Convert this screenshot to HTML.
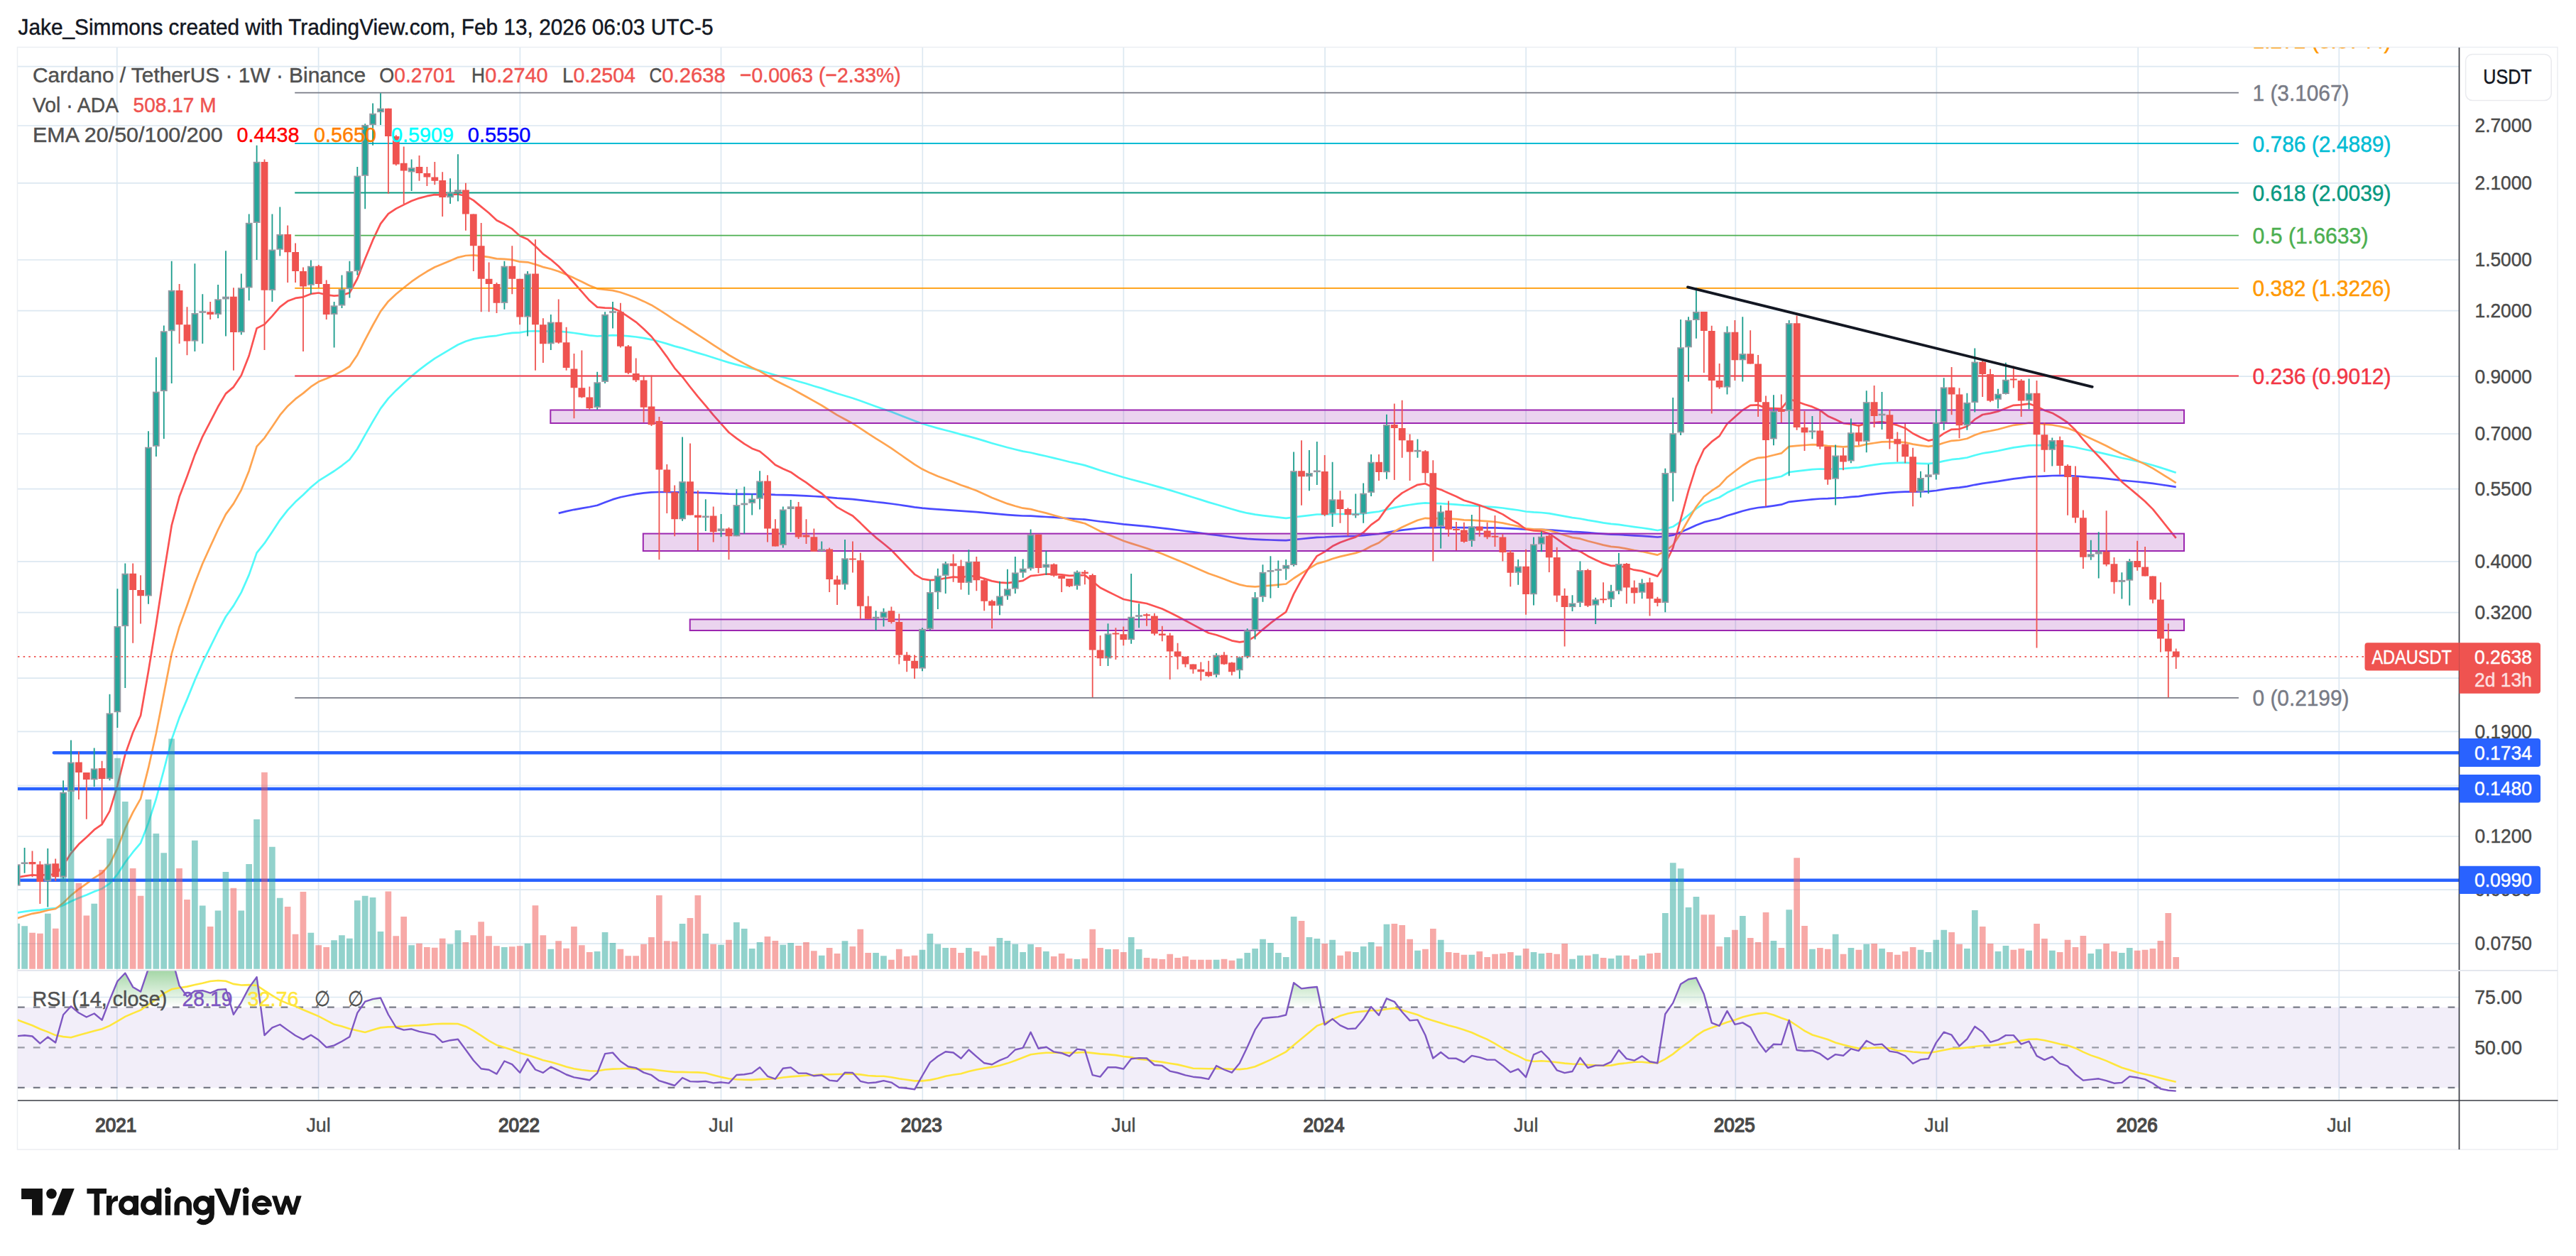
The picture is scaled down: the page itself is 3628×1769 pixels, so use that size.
<!DOCTYPE html>
<html><head><meta charset="utf-8"><style>html,body{margin:0;padding:0;background:#fff;overflow:hidden}svg{display:block}</style></head>
<body><svg width="3628" height="1769" viewBox="0 0 3628 1769" font-family='"Liberation Sans", sans-serif'><defs><clipPath id="cm"><rect x="25" y="67" width="3438.5" height="1299.5"/></clipPath><clipPath id="cr"><rect x="25" y="1367.5" width="3438.5" height="182.0"/></clipPath><linearGradient id="ob" x1="0" y1="0" x2="0" y2="1"><stop offset="0" stop-color="#4caf50" stop-opacity="0.7"/><stop offset="1" stop-color="#4caf50" stop-opacity="0"/></linearGradient></defs><rect width="3628" height="1769" fill="#fff"/><text x="25.5" y="48.6" font-size="30.5" fill="#131722" text-anchor="start" font-weight="normal" stroke="#131722" stroke-width="0.45" textLength="979" lengthAdjust="spacingAndGlyphs" >Jake_Simmons created with TradingView.com, Feb 13, 2026 06:03 UTC-5</text><rect x="24.5" y="66.5" width="3577.5" height="1552.5" fill="none" stroke="#eceef2" stroke-width="1.5"/><path d="M25 93.6H3463.5M25 177H3463.5M25 257.8H3463.5M25 366H3463.5M25 437.7H3463.5M25 530.2H3463.5M25 611H3463.5M25 688.6H3463.5M25 790.9H3463.5M25 862.7H3463.5M25 955.2H3463.5M25 1030.3H3463.5M25 1106.3H3463.5M25 1178H3463.5M25 1253.1H3463.5M25 1329.1H3463.5M164.8 67V1549.5M448.6 67V1549.5M732.4 67V1549.5M1015.5 67V1549.5M1299.3 67V1549.5M1582.4 67V1549.5M1866.1 67V1549.5M2149.2 67V1549.5M2444.3 67V1549.5M2727.4 67V1549.5M3011.2 67V1549.5M3294.3 67V1549.5M25 1404.5H3463.5" stroke="#dce8f1" stroke-width="1.7" fill="none"/><path d="M25 1366.8H3602" stroke="#e0e3eb" stroke-width="1.7"/><g clip-path="url(#cm)"><path d="M786.7 722.9 L797.6 720.1 L808.5 717.8 L819.4 715.8 L830.3 714 L841.2 711.7 L852.1 707.5 L863 703.4 L873.9 700.3 L884.8 698 L895.7 695.9 L906.6 694.4 L917.5 693.3 L928.4 693 L939.3 693 L950.2 693.4 L961.1 693.2 L972 693.5 L982.9 693.8 L993.8 694.2 L1004.7 694.7 L1015.6 695.1 L1026.5 695.7 L1037.4 695.8 L1048.3 695.9 L1059.2 696 L1070.1 695.8 L1081 696.3 L1091.9 696.9 L1102.8 697.1 L1113.7 697.3 L1124.6 697.8 L1135.5 698.3 L1146.4 699 L1157.3 699.7 L1168.2 700.7 L1179.1 701.7 L1190 702.4 L1200.9 703.2 L1211.8 704.4 L1222.7 705.7 L1233.6 707 L1244.5 708.2 L1255.4 709.5 L1266.3 711 L1277.2 712.6 L1288.1 714.3 L1299 715.6 L1309.9 716.6 L1320.8 717.4 L1331.7 718.1 L1342.6 718.8 L1353.5 719.6 L1364.4 720.3 L1375.3 721.1 L1386.2 722.1 L1397.1 723.2 L1408 724.2 L1418.9 725.1 L1429.8 725.8 L1440.7 726.5 L1451.6 726.7 L1462.5 727.4 L1473.4 728 L1484.3 728.7 L1495.2 729.5 L1506.1 730.3 L1517 731 L1527.9 731.6 L1538.7 733 L1549.6 734.5 L1560.5 735.7 L1571.4 737 L1582.3 738.3 L1593.2 739.3 L1604.1 740.4 L1615 741.4 L1625.9 742.6 L1636.8 743.8 L1647.7 745.2 L1658.6 746.5 L1669.5 748 L1680.4 749.4 L1691.3 750.9 L1702.2 752.4 L1713.1 753.7 L1724 755.1 L1734.9 756.5 L1745.8 757.8 L1756.7 758.9 L1767.6 759.6 L1778.5 760.1 L1789.4 760.5 L1800.3 760.8 L1811.2 761.2 L1822.1 760 L1833 759 L1843.9 757.9 L1854.8 756.8 L1865.7 756.5 L1876.6 755.9 L1887.5 755.5 L1898.4 755.2 L1909.3 754.9 L1920.2 754.2 L1931.1 753 L1942 752 L1952.9 750 L1963.8 748.2 L1974.7 746.6 L1985.6 745.3 L1996.5 744 L2007.4 743.1 L2018.3 743.1 L2029.2 742.9 L2040.1 742.9 L2051 743 L2061.9 743.1 L2072.8 743.1 L2083.7 743.2 L2094.6 743.3 L2105.5 743.4 L2116.4 743.8 L2127.3 744.3 L2138.2 744.8 L2149.1 745.6 L2160 745.8 L2170.9 745.9 L2181.8 746.3 L2192.7 747.1 L2203.6 748 L2214.5 748.9 L2225.4 749.4 L2236.3 750.2 L2247.2 751.1 L2258.1 751.9 L2269 752.6 L2279.9 753 L2290.8 753.6 L2301.7 754.3 L2312.6 754.9 L2323.5 755.7 L2334.4 756.5 L2345.3 755.5 L2356.2 753.7 L2367.1 749.6 L2378 744.7 L2388.9 739.7 L2399.8 735.4 L2410.7 732.7 L2421.6 730.2 L2432.5 726.2 L2443.4 723.1 L2454.3 719.8 L2465.2 717 L2476.1 715 L2487 713.9 L2497.9 712.3 L2508.8 710.7 L2519.7 706.8 L2530.6 705.6 L2541.5 704.5 L2552.4 703.3 L2563.3 702.5 L2574.2 702.2 L2585.1 701.5 L2596 701 L2606.9 699.9 L2617.8 699.1 L2628.7 697.4 L2639.6 696.1 L2650.5 694.8 L2661.4 693.9 L2672.3 693.1 L2683.2 692.6 L2694.1 692.6 L2705 692.4 L2715.9 692.2 L2726.8 691 L2737.7 689.2 L2748.6 687.6 L2759.5 686.6 L2770.4 685.1 L2781.3 682.8 L2792.2 680.8 L2803.1 679.4 L2814 677.9 L2824.9 676.1 L2835.8 674.4 L2846.7 673.1 L2857.6 671.6 L2868.5 671 L2879.4 670.6 L2890.3 670 L2901.2 669.9 L2912.1 669.9 L2923 670.5 L2933.9 671.4 L2944.8 672.3 L2955.7 673.2 L2966.6 674.2 L2977.5 675.4 L2988.4 676.6 L2999.3 677.5 L3010.2 678.5 L3021.1 679.6 L3032 680.9 L3042.9 682.5 L3053.8 684.1 L3064.7 685.8" fill="none" stroke="#4b4bff" stroke-width="2.7" stroke-linejoin="round"/><path d="M23.7 1285.5 L34.6 1283.9 L45.5 1282.4 L56.4 1281.6 L67.3 1280.2 L78.2 1279.2 L89.1 1275 L100 1269.5 L110.9 1264.7 L121.8 1260.4 L132.7 1255.8 L143.6 1251.7 L154.5 1244.4 L165.4 1231.4 L176.3 1214.5 L187.2 1200.2 L198.1 1187.3 L209 1158.9 L219.9 1125 L230.8 1084.6 L241.7 1041.9 L252.6 1010.6 L263.5 984.9 L274.4 957.9 L285.3 933.2 L296.2 911.1 L307.1 889 L318 868.5 L328.9 853.1 L339.8 834.4 L350.7 809.6 L361.6 778.6 L372.5 765.2 L383.4 748.9 L394.3 732.3 L405.2 718.4 L416.1 706.8 L427 697 L437.9 686.2 L448.8 677.2 L459.7 670.4 L470.6 663.5 L481.5 655.8 L492.4 647.3 L503.3 632 L514.2 612.7 L525.1 593.6 L536 575.4 L546.9 561.1 L557.8 549.9 L568.7 539.8 L579.6 529.9 L590.5 520.9 L601.4 512.6 L612.3 504.9 L623.2 498.4 L634.1 491.9 L645 485.5 L655.9 480.7 L666.8 477.4 L677.7 475.5 L688.6 473.8 L699.5 472.8 L710.4 470.5 L721.3 468.8 L732.2 468.3 L743.1 466.5 L754 466.3 L764.9 466.6 L775.8 466.4 L786.7 466.7 L797.6 467.6 L808.5 469 L819.4 470.6 L830.3 472.3 L841.2 473.5 L852.1 472.9 L863 472.2 L873.9 472.5 L884.8 473.4 L895.7 474.5 L906.6 476.2 L917.5 478.3 L928.4 481 L939.3 484.1 L950.2 487.6 L961.1 490.4 L972 493.7 L982.9 497.1 L993.8 500.3 L1004.7 503.8 L1015.6 507.2 L1026.5 510.6 L1037.4 513.6 L1048.3 516.5 L1059.2 519.3 L1070.1 521.8 L1081 525 L1091.9 528.4 L1102.8 531.2 L1113.7 534 L1124.6 537.2 L1135.5 540.3 L1146.4 543.7 L1157.3 546.9 L1168.2 550.6 L1179.1 554.2 L1190 557.5 L1200.9 560.8 L1211.8 564.6 L1222.7 568.6 L1233.6 572.5 L1244.5 576.3 L1255.4 580.1 L1266.3 584.3 L1277.2 588.6 L1288.1 592.8 L1299 596.7 L1309.9 600 L1320.8 603.1 L1331.7 606 L1342.6 608.8 L1353.5 611.9 L1364.4 614.6 L1375.3 617.6 L1386.2 620.9 L1397.1 624.2 L1408 627.3 L1418.9 630.3 L1429.8 633 L1440.7 635.6 L1451.6 637.5 L1462.5 640.1 L1473.4 642.5 L1484.3 645.1 L1495.2 647.7 L1506.1 650.5 L1517 652.9 L1527.9 655.4 L1538.7 658.9 L1549.6 662.5 L1560.5 665.8 L1571.4 669 L1582.3 672.3 L1593.2 675.3 L1604.1 678.1 L1615 681 L1625.9 684.1 L1636.8 687.1 L1647.7 690.4 L1658.6 693.7 L1669.5 697.1 L1680.4 700.5 L1691.3 703.9 L1702.2 707.4 L1713.1 710.5 L1724 713.7 L1734.9 717 L1745.8 720.1 L1756.7 722.7 L1767.6 724.6 L1778.5 726.1 L1789.4 727.4 L1800.3 728.7 L1811.2 729.9 L1822.1 728.5 L1833 727.2 L1843.9 725.9 L1854.8 724.5 L1865.7 724.5 L1876.6 724.1 L1887.5 724 L1898.4 724 L1909.3 724 L1920.2 723.4 L1931.1 721.8 L1942 720.5 L1952.9 717.6 L1963.8 714.9 L1974.7 712.7 L1985.6 711 L1996.5 709.3 L2007.4 708.4 L2018.3 709 L2029.2 709.2 L2040.1 709.9 L2051 710.6 L2061.9 711.6 L2072.8 712.1 L2083.7 712.8 L2094.6 713.6 L2105.5 714.4 L2116.4 715.5 L2127.3 717.1 L2138.2 718.5 L2149.1 720.5 L2160 721.4 L2170.9 722 L2181.8 723.1 L2192.7 725.1 L2203.6 727.2 L2214.5 729.2 L2225.4 730.5 L2236.3 732.6 L2247.2 734.4 L2258.1 736.3 L2269 737.9 L2279.9 738.9 L2290.8 740.5 L2301.7 742.1 L2312.6 743.5 L2323.5 745.2 L2334.4 747 L2345.3 745.1 L2356.2 741.8 L2367.1 734.3 L2378 725.5 L2388.9 716.4 L2399.8 709 L2410.7 704.5 L2421.6 700.5 L2432.5 693.8 L2443.4 688.8 L2454.3 683.7 L2465.2 679.2 L2476.1 676.6 L2487 675.4 L2497.9 673.1 L2508.8 671 L2519.7 665 L2530.6 663.6 L2541.5 662.4 L2552.4 661.2 L2563.3 660.5 L2574.2 660.8 L2585.1 660.4 L2596 660.2 L2606.9 659.2 L2617.8 658.4 L2628.7 656.3 L2639.6 654.7 L2650.5 653.1 L2661.4 652.4 L2672.3 651.8 L2683.2 651.7 L2694.1 652.4 L2705 652.8 L2715.9 653.1 L2726.8 651.9 L2737.7 649.4 L2748.6 647.2 L2759.5 646.2 L2770.4 644.5 L2781.3 641.2 L2792.2 638.5 L2803.1 636.8 L2814 635 L2824.9 632.6 L2835.8 630.4 L2846.7 628.9 L2857.6 627.3 L2868.5 627 L2879.4 627.1 L2890.3 627 L2901.2 627.5 L2912.1 628.3 L2923 630 L2933.9 632.5 L2944.8 634.8 L2955.7 637.1 L2966.6 639.6 L2977.5 642.3 L2988.4 645 L2999.3 647.3 L3010.2 649.8 L3021.1 652.3 L3032 655.2 L3042.9 658.6 L3053.8 662.1 L3064.7 665.7" fill="none" stroke="#52fafa" stroke-width="2.7" stroke-linejoin="round"/><path d="M23.7 1293.5 L34.6 1290 L45.5 1286.8 L56.4 1284.9 L67.3 1282 L78.2 1280 L89.1 1271.7 L100 1261.1 L110.9 1252.3 L121.8 1244.6 L132.7 1236.4 L143.6 1229.7 L154.5 1217.1 L165.4 1194.8 L176.3 1166.6 L187.2 1144.2 L198.1 1124.9 L209 1081.7 L219.9 1032.7 L230.8 977 L241.7 921 L252.6 882.7 L263.5 852.7 L274.4 821.5 L285.3 793.8 L296.2 769.8 L307.1 746 L318 724.4 L328.9 709.4 L339.8 690.1 L350.7 663.2 L361.6 628.9 L372.5 616.8 L383.4 601 L394.3 584.7 L405.2 571.9 L416.1 561.9 L427 553.9 L437.9 544.7 L448.8 537.6 L459.7 533.3 L470.6 528.6 L481.5 522.8 L492.4 516 L503.3 499.9 L514.2 478.7 L525.1 458 L536 438.6 L546.9 424.4 L557.8 414.2 L568.7 405.3 L579.6 396.7 L590.5 389.1 L601.4 382.3 L612.3 376.3 L623.2 371.8 L634.1 367.2 L645 362.6 L655.9 360 L666.8 359.4 L677.7 360.7 L688.6 362.1 L699.5 364.4 L710.4 364.8 L721.3 365.9 L732.2 368.7 L743.1 369.3 L754 372.4 L764.9 376.1 L775.8 378.8 L786.7 382.3 L797.6 386.7 L808.5 391.6 L819.4 396.8 L830.3 402.2 L841.2 406.6 L852.1 408 L863 409.1 L873.9 411.8 L884.8 415.6 L895.7 419.6 L906.6 424.4 L917.5 429.7 L928.4 436.3 L939.3 443.3 L950.2 450.8 L961.1 457.3 L972 464.5 L982.9 471.6 L993.8 478.6 L1004.7 485.9 L1015.6 492.9 L1026.5 500 L1037.4 506.2 L1048.3 512.1 L1059.2 517.8 L1070.1 522.8 L1081 529.1 L1091.9 535.8 L1102.8 541.3 L1113.7 546.6 L1124.6 552.7 L1135.5 558.7 L1146.4 564.9 L1157.3 571 L1168.2 577.8 L1179.1 584.6 L1190 590.5 L1200.9 596.4 L1211.8 603.4 L1222.7 610.6 L1233.6 617.7 L1244.5 624.4 L1255.4 631.4 L1266.3 639 L1277.2 646.6 L1288.1 654.2 L1299 660.8 L1309.9 666.1 L1320.8 670.7 L1331.7 674.7 L1342.6 678.7 L1353.5 683.3 L1364.4 686.9 L1375.3 691.1 L1386.2 696 L1397.1 700.9 L1408 705.3 L1418.9 709.4 L1429.8 712.7 L1440.7 715.7 L1451.6 717.1 L1462.5 720 L1473.4 722.6 L1484.3 725.7 L1495.2 728.7 L1506.1 732 L1517 734.6 L1527.9 737.2 L1538.7 742.6 L1549.6 748.2 L1560.5 752.8 L1571.4 757.3 L1582.3 761.8 L1593.2 765.4 L1604.1 768.8 L1615 772.2 L1625.9 776.1 L1636.8 780.1 L1647.7 784.5 L1658.6 789 L1669.5 793.6 L1680.4 798.3 L1691.3 803 L1702.2 807.7 L1713.1 811.5 L1724 815.6 L1734.9 819.8 L1745.8 823.4 L1756.7 825.7 L1767.6 826.3 L1778.5 825.5 L1789.4 824.6 L1800.3 823.6 L1811.2 822.5 L1822.1 814.5 L1833 807.5 L1843.9 800.6 L1854.8 793.9 L1865.7 790.9 L1876.6 787 L1887.5 783.9 L1898.4 781.4 L1909.3 778.9 L1920.2 775.2 L1931.1 769.3 L1942 764.5 L1952.9 756.1 L1963.8 748.5 L1974.7 742.4 L1985.6 737.5 L1996.5 732.7 L2007.4 729.8 L2018.3 730.3 L2029.2 729.9 L2040.1 730.5 L2051 731.1 L2061.9 732.3 L2072.8 732.7 L2083.7 733.3 L2094.6 734.1 L2105.5 735 L2116.4 736.6 L2127.3 739 L2138.2 741.1 L2149.1 744.4 L2160 745.3 L2170.9 745.7 L2181.8 747.1 L2192.7 750.3 L2203.6 753.8 L2214.5 757.1 L2225.4 758.7 L2236.3 762 L2247.2 764.8 L2258.1 767.6 L2269 769.9 L2279.9 770.8 L2290.8 772.9 L2301.7 775.1 L2312.6 776.8 L2323.5 779.1 L2334.4 781.6 L2345.3 776.2 L2356.2 767.8 L2367.1 750.9 L2378 732 L2388.9 713.8 L2399.8 699.5 L2410.7 691.2 L2421.6 684.1 L2432.5 672.2 L2443.4 663.8 L2454.3 655.5 L2465.2 648.5 L2476.1 644.8 L2487 643.8 L2497.9 641 L2508.8 638.4 L2519.7 628.8 L2530.6 627.8 L2541.5 627 L2552.4 626.2 L2563.3 626.3 L2574.2 628.1 L2585.1 628.6 L2596 629.4 L2606.9 628.6 L2617.8 628.4 L2628.7 625.7 L2639.6 624 L2650.5 622.3 L2661.4 622.2 L2672.3 622.3 L2683.2 623.1 L2694.1 625.6 L2705 627.3 L2715.9 628.8 L2726.8 627.4 L2737.7 623.8 L2748.6 620.8 L2759.5 620 L2770.4 617.7 L2781.3 612.7 L2792.2 608.9 L2803.1 607 L2814 604.8 L2824.9 601.7 L2835.8 598.8 L2846.7 597.4 L2857.6 595.6 L2868.5 596.2 L2879.4 597.6 L2890.3 598.5 L2901.2 600.5 L2912.1 603.1 L2923 607.2 L2933.9 612.6 L2944.8 617.7 L2955.7 622.7 L2966.6 628 L2977.5 633.7 L2988.4 639.2 L2999.3 644 L3010.2 648.8 L3021.1 653.9 L3032 659.6 L3042.9 666.3 L3053.8 673.2 L3064.7 680.1" fill="none" stroke="#ffa450" stroke-width="2.7" stroke-linejoin="round"/><path d="M23.7 1236 L34.6 1233.9 L45.5 1232.3 L56.4 1233.2 L67.3 1231.6 L78.2 1231.9 L89.1 1218.9 L100 1201.8 L110.9 1189.1 L121.8 1179.2 L132.7 1168.7 L143.6 1161.1 L154.5 1142.4 L165.4 1106.3 L176.3 1062.6 L187.2 1031.8 L198.1 1007.7 L209 945.5 L219.9 879.2 L230.8 807.8 L241.7 740.2 L252.6 699.6 L263.5 671 L274.4 640.6 L285.3 614.8 L296.2 593.8 L307.1 572.8 L318 554.4 L328.9 545.1 L339.8 528.8 L350.7 501 L361.6 462.4 L372.5 456.9 L383.4 445.2 L394.3 432.3 L405.2 424.1 L416.1 419.9 L427 418.3 L437.9 413.9 L448.8 412.5 L459.7 415.3 L470.6 416.7 L481.5 415.8 L492.4 412.4 L503.3 392.5 L514.2 364.4 L525.1 338.2 L536 315.2 L546.9 301.2 L557.8 293.9 L568.7 288.4 L579.6 283 L590.5 279.1 L601.4 276.2 L612.3 274.1 L623.2 274.5 L634.1 274.1 L645 273.5 L655.9 276 L666.8 282.1 L677.7 291.1 L688.6 300 L699.5 310.2 L710.4 315.8 L721.3 322.4 L732.2 332.3 L743.1 337.1 L754 346.8 L764.9 357.6 L775.8 365.6 L786.7 375 L797.6 386.2 L808.5 398.5 L819.4 410.8 L830.3 423.3 L841.2 432.6 L852.1 433.6 L863 434 L873.9 438.8 L884.8 446.1 L895.7 453.6 L906.6 463.3 L917.5 474 L928.4 487.8 L939.3 502.6 L950.2 518.6 L961.1 530.8 L972 545 L982.9 558.6 L993.8 571.3 L1004.7 584.6 L1015.6 596.8 L1026.5 609 L1037.4 617.4 L1048.3 625.1 L1059.2 631.7 L1070.1 635.8 L1081 644.7 L1091.9 654.7 L1102.8 660.2 L1113.7 664.9 L1124.6 672.6 L1135.5 679.7 L1146.4 687.8 L1157.3 695 L1168.2 704.8 L1179.1 714.4 L1190 720.6 L1200.9 726.5 L1211.8 736.6 L1222.7 747.3 L1233.6 757.1 L1244.5 765.7 L1255.4 774.7 L1266.3 786.2 L1277.2 797.5 L1288.1 808.8 L1299 815.4 L1309.9 817.1 L1320.8 816.5 L1331.7 814.3 L1342.6 812.6 L1353.5 813.4 L1364.4 811.2 L1375.3 811.8 L1386.2 814.9 L1397.1 818.4 L1408 820.3 L1418.9 821.2 L1429.8 819.7 L1440.7 817.9 L1451.6 811.1 L1462.5 810 L1473.4 808.5 L1484.3 808.7 L1495.2 809.3 L1506.1 810.9 L1517 810.4 L1527.9 810.1 L1538.7 818.8 L1549.6 827.7 L1560.5 833.3 L1571.4 838.6 L1582.3 844 L1593.2 846.3 L1604.1 848.2 L1615 850 L1625.9 853.8 L1636.8 857.5 L1647.7 862.7 L1658.6 868.2 L1669.5 874 L1680.4 879.9 L1691.3 885.7 L1702.2 891.5 L1713.1 894.3 L1724 898 L1734.9 902.3 L1745.8 904.4 L1756.7 902.8 L1767.6 896.4 L1778.5 886.6 L1789.4 877.7 L1800.3 869.5 L1811.2 861.8 L1822.1 836.6 L1833 816.7 L1843.9 798.9 L1854.8 783.1 L1865.7 777.1 L1876.6 769.3 L1887.5 764 L1898.4 760 L1909.3 756.4 L1920.2 750 L1931.1 739.1 L1942 731.3 L1952.9 715.9 L1963.8 703.3 L1974.7 694.4 L1985.6 688.4 L1996.5 682.8 L2007.4 681.2 L2018.3 686.5 L2029.2 689.6 L2040.1 694.6 L2051 699.2 L2061.9 704.7 L2072.8 708 L2083.7 711.6 L2094.6 715.6 L2105.5 719.3 L2116.4 724.4 L2127.3 731.4 L2138.2 737.2 L2149.1 745.5 L2160 747.4 L2170.9 748.2 L2181.8 751.5 L2192.7 758.9 L2203.6 766.9 L2214.5 773.9 L2225.4 776.6 L2236.3 783.2 L2247.2 788.5 L2258.1 793.4 L2269 796.9 L2279.9 796.7 L2290.8 799.5 L2301.7 802.7 L2312.6 804.4 L2323.5 807.9 L2334.4 811.6 L2345.3 794.5 L2356.2 771.7 L2367.1 731.3 L2378 691.2 L2388.9 656.7 L2399.8 632.8 L2410.7 622.2 L2421.6 614.1 L2432.5 596.9 L2443.4 587.2 L2454.3 577.6 L2465.2 570.8 L2476.1 570.4 L2487 574.8 L2497.9 575.2 L2508.8 575.6 L2519.7 562 L2530.6 565.6 L2541.5 569.5 L2552.4 572.9 L2563.3 577.8 L2574.2 585.9 L2585.1 590.8 L2596 596.1 L2606.9 597.3 L2617.8 599.6 L2628.7 596.2 L2639.6 595.3 L2650.5 594.1 L2661.4 596.3 L2672.3 598.9 L2683.2 602.9 L2694.1 610.5 L2705 616 L2715.9 620.6 L2726.8 618.1 L2737.7 610.4 L2748.6 604.8 L2759.5 604.3 L2770.4 600.5 L2781.3 590.7 L2792.2 584 L2803.1 582.1 L2814 579.4 L2824.9 574.9 L2835.8 570.8 L2846.7 570.2 L2857.6 568.6 L2868.5 572.5 L2879.4 577.9 L2890.3 581.7 L2901.2 588 L2912.1 595.2 L2923 605.8 L2933.9 619.1 L2944.8 631.4 L2955.7 642.8 L2966.6 654.5 L2977.5 667.1 L2988.4 678.7 L2999.3 687.8 L3010.2 696.9 L3021.1 706.2 L3032 717.1 L3042.9 730.6 L3053.8 744.4 L3064.7 757.9" fill="none" stroke="#fb5252" stroke-width="2.7" stroke-linejoin="round"/><path d="M76 1060.3H3463.5" stroke="#2962ff" stroke-width="4.6" stroke-linecap="round"/><path d="M25 1111H3463.5" stroke="#2962ff" stroke-width="4.6" stroke-linecap="round"/><path d="M25 1239.7H3463.5" stroke="#2962ff" stroke-width="4.6" stroke-linecap="round"/><path d="M19.4 1364.7V1300.8h8.7V1364.7zM30.3 1364.7V1304.3h8.7V1364.7zM63 1364.7V1286.8h8.7V1364.7zM84.8 1364.7V1200.2h8.7V1364.7zM95.7 1364.7V1110h8.7V1364.7zM128.4 1364.7V1272.8h8.7V1364.7zM150.2 1364.7V1180.9h8.7V1364.7zM161.1 1364.7V1067.7h8.7V1364.7zM171.9 1364.7V1128.9h8.7V1364.7zM204.6 1364.7V1126.1h8.7V1364.7zM215.5 1364.7V1174h8.7V1364.7zM226.4 1364.7V1201.2h8.7V1364.7zM237.3 1364.7V1040.5h8.7V1364.7zM270 1364.7V1183.7h8.7V1364.7zM280.9 1364.7V1275.6h8.7V1364.7zM302.7 1364.7V1282.6h8.7V1364.7zM313.6 1364.7V1228.1h8.7V1364.7zM335.4 1364.7V1282.6h8.7V1364.7zM346.3 1364.7V1216.9h8.7V1364.7zM357.2 1364.7V1154h8.7V1364.7zM379 1364.7V1192.8h8.7V1364.7zM389.9 1364.7V1264.8h8.7V1364.7zM433.5 1364.7V1313.7h8.7V1364.7zM466.2 1364.7V1324.2h8.7V1364.7zM477.1 1364.7V1317.2h8.7V1364.7zM488 1364.7V1321.8h8.7V1364.7zM498.9 1364.7V1268.3h8.7V1364.7zM509.8 1364.7V1261.7h8.7V1364.7zM520.7 1364.7V1264.1h8.7V1364.7zM531.6 1364.7V1312h8.7V1364.7zM575.2 1364.7V1331.2h8.7V1364.7zM629.7 1364.7V1329.8h8.7V1364.7zM640.6 1364.7V1310.2h8.7V1364.7zM706 1364.7V1334h8.7V1364.7zM738.7 1364.7V1328.7h8.7V1364.7zM771.4 1364.7V1336.8h8.7V1364.7zM836.8 1364.7V1339.9h8.7V1364.7zM847.7 1364.7V1313h8.7V1364.7zM858.6 1364.7V1328h8.7V1364.7zM956.7 1364.7V1301.1h8.7V1364.7zM989.4 1364.7V1315.1h8.7V1364.7zM1011.2 1364.7V1330.8h8.7V1364.7zM1033 1364.7V1299h8.7V1364.7zM1043.9 1364.7V1308.1h8.7V1364.7zM1054.8 1364.7V1336.1h8.7V1364.7zM1065.7 1364.7V1327h8.7V1364.7zM1098.4 1364.7V1330.8h8.7V1364.7zM1109.3 1364.7V1328h8.7V1364.7zM1152.9 1364.7V1345.8h8.7V1364.7zM1185.6 1364.7V1325.2h8.7V1364.7zM1229.2 1364.7V1342h8.7V1364.7zM1240.1 1364.7V1346.2h8.7V1364.7zM1294.6 1364.7V1337.8h8.7V1364.7zM1305.5 1364.7V1315.1h8.7V1364.7zM1316.4 1364.7V1329.8h8.7V1364.7zM1327.3 1364.7V1335h8.7V1364.7zM1360 1364.7V1335h8.7V1364.7zM1403.6 1364.7V1321h8.7V1364.7zM1414.5 1364.7V1324.9h8.7V1364.7zM1425.4 1364.7V1329.8h8.7V1364.7zM1436.3 1364.7V1340.9h8.7V1364.7zM1447.2 1364.7V1330.1h8.7V1364.7zM1469 1364.7V1339.9h8.7V1364.7zM1512.6 1364.7V1351.1h8.7V1364.7zM1556.2 1364.7V1337.1h8.7V1364.7zM1588.9 1364.7V1320h8.7V1364.7zM1599.8 1364.7V1337.1h8.7V1364.7zM1708.8 1364.7V1351.8h8.7V1364.7zM1741.5 1364.7V1350h8.7V1364.7zM1752.4 1364.7V1342h8.7V1364.7zM1763.3 1364.7V1336.1h8.7V1364.7zM1774.2 1364.7V1322.8h8.7V1364.7zM1785.1 1364.7V1328h8.7V1364.7zM1796 1364.7V1342h8.7V1364.7zM1806.9 1364.7V1347.9h8.7V1364.7zM1817.8 1364.7V1291h8.7V1364.7zM1839.6 1364.7V1320h8.7V1364.7zM1850.5 1364.7V1322.1h8.7V1364.7zM1872.3 1364.7V1323.8h8.7V1364.7zM1905 1364.7V1340.9h8.7V1364.7zM1915.9 1364.7V1332.9h8.7V1364.7zM1926.8 1364.7V1327h8.7V1364.7zM1948.6 1364.7V1301.8h8.7V1364.7zM1992.2 1364.7V1338.8h8.7V1364.7zM2024.9 1364.7V1323.8h8.7V1364.7zM2068.5 1364.7V1344.8h8.7V1364.7zM2133.9 1364.7V1345.8h8.7V1364.7zM2155.7 1364.7V1340.9h8.7V1364.7zM2166.6 1364.7V1343h8.7V1364.7zM2210.2 1364.7V1350.7h8.7V1364.7zM2221.1 1364.7V1345.8h8.7V1364.7zM2242.9 1364.7V1343.7h8.7V1364.7zM2264.7 1364.7V1350h8.7V1364.7zM2275.6 1364.7V1345.8h8.7V1364.7zM2308.3 1364.7V1345.8h8.7V1364.7zM2341 1364.7V1286.1h8.7V1364.7zM2351.9 1364.7V1215.2h8.7V1364.7zM2362.8 1364.7V1223.2h8.7V1364.7zM2373.7 1364.7V1278.1h8.7V1364.7zM2384.6 1364.7V1263h8.7V1364.7zM2428.2 1364.7V1320h8.7V1364.7zM2450 1364.7V1289.9h8.7V1364.7zM2493.6 1364.7V1324.9h8.7V1364.7zM2515.4 1364.7V1281.2h8.7V1364.7zM2548.1 1364.7V1336.8h8.7V1364.7zM2580.8 1364.7V1315.8h8.7V1364.7zM2602.6 1364.7V1335h8.7V1364.7zM2624.4 1364.7V1329.8h8.7V1364.7zM2646.2 1364.7V1336.1h8.7V1364.7zM2700.7 1364.7V1337.8h8.7V1364.7zM2711.6 1364.7V1340.9h8.7V1364.7zM2722.5 1364.7V1323.8h8.7V1364.7zM2733.4 1364.7V1309.8h8.7V1364.7zM2766.1 1364.7V1336.1h8.7V1364.7zM2777 1364.7V1281.9h8.7V1364.7zM2809.7 1364.7V1339.9h8.7V1364.7zM2820.6 1364.7V1331.9h8.7V1364.7zM2853.3 1364.7V1338.8h8.7V1364.7zM2886 1364.7V1338.8h8.7V1364.7zM2940.4 1364.7V1343h8.7V1364.7zM2951.3 1364.7V1336.8h8.7V1364.7zM2984 1364.7V1342h8.7V1364.7zM2994.9 1364.7V1335h8.7V1364.7z" fill="#26a69a" fill-opacity="0.5"/><path d="M41.2 1364.7V1313.7h8.7V1364.7zM52.1 1364.7V1314.8h8.7V1364.7zM73.9 1364.7V1307.8h8.7V1364.7zM106.6 1364.7V1243.8h8.7V1364.7zM117.5 1364.7V1289.6h8.7V1364.7zM139.3 1364.7V1225h8.7V1364.7zM182.8 1364.7V1222.9h8.7V1364.7zM193.7 1364.7V1261.7h8.7V1364.7zM248.2 1364.7V1222.9h8.7V1364.7zM259.1 1364.7V1266.9h8.7V1364.7zM291.8 1364.7V1305h8.7V1364.7zM324.5 1364.7V1250.8h8.7V1364.7zM368.1 1364.7V1087.7h8.7V1364.7zM400.8 1364.7V1277h8.7V1364.7zM411.7 1364.7V1315.8h8.7V1364.7zM422.6 1364.7V1256.1h8.7V1364.7zM444.4 1364.7V1331.2h8.7V1364.7zM455.3 1364.7V1334h8.7V1364.7zM542.5 1364.7V1255.4h8.7V1364.7zM553.4 1364.7V1318.3h8.7V1364.7zM564.3 1364.7V1291h8.7V1364.7zM586.1 1364.7V1328.7h8.7V1364.7zM597 1364.7V1334h8.7V1364.7zM607.9 1364.7V1334.7h8.7V1364.7zM618.8 1364.7V1321.8h8.7V1364.7zM651.5 1364.7V1327h8.7V1364.7zM662.4 1364.7V1317.2h8.7V1364.7zM673.3 1364.7V1298.3h8.7V1364.7zM684.2 1364.7V1318.3h8.7V1364.7zM695.1 1364.7V1332.2h8.7V1364.7zM716.9 1364.7V1333.3h8.7V1364.7zM727.8 1364.7V1332.2h8.7V1364.7zM749.6 1364.7V1275.3h8.7V1364.7zM760.5 1364.7V1317.2h8.7V1364.7zM782.3 1364.7V1325.2h8.7V1364.7zM793.2 1364.7V1335.7h8.7V1364.7zM804.1 1364.7V1305h8.7V1364.7zM815 1364.7V1331.2h8.7V1364.7zM825.9 1364.7V1341h8.7V1364.7zM869.5 1364.7V1336.8h8.7V1364.7zM880.4 1364.7V1346.2h8.7V1364.7zM891.3 1364.7V1346.2h8.7V1364.7zM902.2 1364.7V1329.8h8.7V1364.7zM913.1 1364.7V1320h8.7V1364.7zM924 1364.7V1260.9h8.7V1364.7zM934.9 1364.7V1325.2h8.7V1364.7zM945.8 1364.7V1325.9h8.7V1364.7zM967.6 1364.7V1293.1h8.7V1364.7zM978.5 1364.7V1260.9h8.7V1364.7zM1000.3 1364.7V1329.8h8.7V1364.7zM1022.1 1364.7V1323.8h8.7V1364.7zM1076.6 1364.7V1318.9h8.7V1364.7zM1087.5 1364.7V1324.9h8.7V1364.7zM1120.2 1364.7V1331.9h8.7V1364.7zM1131.1 1364.7V1327h8.7V1364.7zM1142 1364.7V1339.2h8.7V1364.7zM1163.8 1364.7V1335h8.7V1364.7zM1174.7 1364.7V1343h8.7V1364.7zM1196.5 1364.7V1332.9h8.7V1364.7zM1207.4 1364.7V1308.8h8.7V1364.7zM1218.3 1364.7V1342h8.7V1364.7zM1251 1364.7V1351.8h8.7V1364.7zM1261.9 1364.7V1336.8h8.7V1364.7zM1272.8 1364.7V1346.9h8.7V1364.7zM1283.7 1364.7V1345.8h8.7V1364.7zM1338.2 1364.7V1335h8.7V1364.7zM1349.1 1364.7V1342h8.7V1364.7zM1370.9 1364.7V1339.9h8.7V1364.7zM1381.8 1364.7V1345.8h8.7V1364.7zM1392.7 1364.7V1332.9h8.7V1364.7zM1458.1 1364.7V1334h8.7V1364.7zM1479.9 1364.7V1346.9h8.7V1364.7zM1490.8 1364.7V1343h8.7V1364.7zM1501.7 1364.7V1350h8.7V1364.7zM1523.5 1364.7V1350h8.7V1364.7zM1534.4 1364.7V1308.8h8.7V1364.7zM1545.3 1364.7V1335h8.7V1364.7zM1567.1 1364.7V1337.1h8.7V1364.7zM1578 1364.7V1340.9h8.7V1364.7zM1610.7 1364.7V1349h8.7V1364.7zM1621.6 1364.7V1350h8.7V1364.7zM1632.5 1364.7V1351.1h8.7V1364.7zM1643.4 1364.7V1343.7h8.7V1364.7zM1654.3 1364.7V1349h8.7V1364.7zM1665.2 1364.7V1346.9h8.7V1364.7zM1676.1 1364.7V1351.8h8.7V1364.7zM1687 1364.7V1351.8h8.7V1364.7zM1697.9 1364.7V1351.8h8.7V1364.7zM1719.7 1364.7V1350.7h8.7V1364.7zM1730.6 1364.7V1352.8h8.7V1364.7zM1828.7 1364.7V1296.9h8.7V1364.7zM1861.4 1364.7V1329.1h8.7V1364.7zM1883.2 1364.7V1345.8h8.7V1364.7zM1894.1 1364.7V1339.9h8.7V1364.7zM1937.7 1364.7V1332.9h8.7V1364.7zM1959.5 1364.7V1301.1h8.7V1364.7zM1970.4 1364.7V1302.9h8.7V1364.7zM1981.3 1364.7V1322.8h8.7V1364.7zM2003.1 1364.7V1336.8h8.7V1364.7zM2014 1364.7V1308.1h8.7V1364.7zM2035.8 1364.7V1340.9h8.7V1364.7zM2046.7 1364.7V1342h8.7V1364.7zM2057.6 1364.7V1344.8h8.7V1364.7zM2079.4 1364.7V1339.9h8.7V1364.7zM2090.3 1364.7V1347.9h8.7V1364.7zM2101.2 1364.7V1343.7h8.7V1364.7zM2112.1 1364.7V1343h8.7V1364.7zM2123 1364.7V1340.9h8.7V1364.7zM2144.8 1364.7V1336.1h8.7V1364.7zM2177.5 1364.7V1342h8.7V1364.7zM2188.4 1364.7V1343.7h8.7V1364.7zM2199.3 1364.7V1329.1h8.7V1364.7zM2232 1364.7V1345.8h8.7V1364.7zM2253.8 1364.7V1349h8.7V1364.7zM2286.5 1364.7V1345.8h8.7V1364.7zM2297.4 1364.7V1351.1h8.7V1364.7zM2319.2 1364.7V1343h8.7V1364.7zM2330.1 1364.7V1342h8.7V1364.7zM2395.5 1364.7V1288.2h8.7V1364.7zM2406.4 1364.7V1288.2h8.7V1364.7zM2417.3 1364.7V1332.9h8.7V1364.7zM2439.1 1364.7V1309.8h8.7V1364.7zM2460.9 1364.7V1321h8.7V1364.7zM2471.8 1364.7V1327h8.7V1364.7zM2482.7 1364.7V1285h8.7V1364.7zM2504.5 1364.7V1335h8.7V1364.7zM2526.3 1364.7V1208.2h8.7V1364.7zM2537.2 1364.7V1303.9h8.7V1364.7zM2559 1364.7V1335h8.7V1364.7zM2569.9 1364.7V1336.8h8.7V1364.7zM2591.7 1364.7V1343.7h8.7V1364.7zM2613.5 1364.7V1337.8h8.7V1364.7zM2635.3 1364.7V1329.1h8.7V1364.7zM2657.1 1364.7V1340.9h8.7V1364.7zM2668 1364.7V1344.8h8.7V1364.7zM2678.9 1364.7V1339.9h8.7V1364.7zM2689.8 1364.7V1334h8.7V1364.7zM2744.3 1364.7V1313h8.7V1364.7zM2755.2 1364.7V1329.8h8.7V1364.7zM2787.9 1364.7V1305h8.7V1364.7zM2798.8 1364.7V1329.1h8.7V1364.7zM2831.5 1364.7V1337.8h8.7V1364.7zM2842.4 1364.7V1336.1h8.7V1364.7zM2864.2 1364.7V1301.1h8.7V1364.7zM2875.1 1364.7V1322.1h8.7V1364.7zM2896.8 1364.7V1340.9h8.7V1364.7zM2907.7 1364.7V1323.8h8.7V1364.7zM2918.6 1364.7V1334h8.7V1364.7zM2929.5 1364.7V1317.9h8.7V1364.7zM2962.2 1364.7V1329.1h8.7V1364.7zM2973.1 1364.7V1339.9h8.7V1364.7zM3005.8 1364.7V1338.8h8.7V1364.7zM3016.7 1364.7V1337.8h8.7V1364.7zM3027.6 1364.7V1336.1h8.7V1364.7zM3038.5 1364.7V1324.9h8.7V1364.7zM3049.4 1364.7V1286.1h8.7V1364.7zM3060.3 1364.7V1347.9h8.7V1364.7z" fill="#ef5350" fill-opacity="0.5"/><path d="M415.2 56.8H3152.9" stroke="#ff9800" stroke-width="1.8"/><text x="3172.5" y="68.3" font-size="30.5" fill="#ff9800" text-anchor="start" font-weight="normal" stroke="#ff9800" stroke-width="0.45" textLength="195" lengthAdjust="spacingAndGlyphs" >1.272 (3.8744)</text><path d="M415.2 130.7H3152.9" stroke="#787b86" stroke-width="1.8"/><text x="3172.5" y="142.2" font-size="30.5" fill="#787b86" text-anchor="start" font-weight="normal" stroke="#787b86" stroke-width="0.45" textLength="136" lengthAdjust="spacingAndGlyphs" >1 (3.1067)</text><path d="M415.2 202H3152.9" stroke="#00bcd4" stroke-width="1.8"/><text x="3172.5" y="213.5" font-size="30.5" fill="#00bcd4" text-anchor="start" font-weight="normal" stroke="#00bcd4" stroke-width="0.45" textLength="195" lengthAdjust="spacingAndGlyphs" >0.786 (2.4889)</text><path d="M415.2 271.5H3152.9" stroke="#089981" stroke-width="1.8"/><text x="3172.5" y="283" font-size="30.5" fill="#089981" text-anchor="start" font-weight="normal" stroke="#089981" stroke-width="0.45" textLength="195" lengthAdjust="spacingAndGlyphs" >0.618 (2.0039)</text><path d="M415.2 331.7H3152.9" stroke="#4caf50" stroke-width="1.8"/><text x="3172.5" y="343.2" font-size="30.5" fill="#4caf50" text-anchor="start" font-weight="normal" stroke="#4caf50" stroke-width="0.45" textLength="163" lengthAdjust="spacingAndGlyphs" >0.5 (1.6633)</text><path d="M415.2 405.8H3152.9" stroke="#ff9800" stroke-width="1.8"/><text x="3172.5" y="417.3" font-size="30.5" fill="#ff9800" text-anchor="start" font-weight="normal" stroke="#ff9800" stroke-width="0.45" textLength="195" lengthAdjust="spacingAndGlyphs" >0.382 (1.3226)</text><path d="M415.2 529.5H3152.9" stroke="#f23645" stroke-width="1.8"/><text x="3172.5" y="541" font-size="30.5" fill="#f23645" text-anchor="start" font-weight="normal" stroke="#f23645" stroke-width="0.45" textLength="195" lengthAdjust="spacingAndGlyphs" >0.236 (0.9012)</text><path d="M415.2 982.8H3152.9" stroke="#787b86" stroke-width="1.8"/><text x="3172.5" y="994.3" font-size="30.5" fill="#787b86" text-anchor="start" font-weight="normal" stroke="#787b86" stroke-width="0.45" textLength="136" lengthAdjust="spacingAndGlyphs" >0 (0.2199)</text><rect x="775.3" y="577.5" width="2300.7" height="18.5" fill="#9c27b0" fill-opacity="0.2" stroke="#9c27b0" stroke-width="2"/><rect x="905.8" y="751.6" width="2170.2" height="24.399999999999977" fill="#9c27b0" fill-opacity="0.2" stroke="#9c27b0" stroke-width="2"/><rect x="971.7" y="872.4" width="2104.3" height="15.600000000000023" fill="#9c27b0" fill-opacity="0.2" stroke="#9c27b0" stroke-width="2"/><path d="M23.7 1217.4V1247.5M34.6 1194V1229.7M67.3 1195.1V1277.6M89.1 1099.2V1237.5M100 1042.4V1198.4M132.7 1053.5V1108.1M154.5 977.7V1099.2M165.4 829.3V1025M176.3 793.5V969.1M209 607.2V850.8M219.9 503.3V643M230.8 458.5V617.9M241.7 367.7V540M274.4 371.3V494.9M285.3 414.3V484.1M307.1 401V448.3M318 353.3V473.4M339.8 385.6V471.6M350.7 301.4V423.2M361.6 204.7V365.9M383.4 301.4V425M394.3 291.4V360.5M437.9 366.6V414.3M470.6 425V489.5M481.5 387.4V434M492.4 367.7V419.6M503.3 235.1V387.4M514.2 174.2V294.2M525.1 145.5V204.7M536 131.2V176M579.6 224.4V269.1M634.1 251.2V287.1M645 217.2V283.5M710.4 367.7V435.8M743.1 382V473.4M775.8 442.9V493.1M841.2 523.7V576.7M852.1 439.3V540M863 425V462.6M961.1 615.5V733.8M993.8 703.3V748.1M1015.6 724.1V756.3M1037.4 689V755.3M1048.3 685.4V751.7M1059.2 695.4V725.5M1070.1 663.2V717.6M1102.8 713.4V771.4M1113.7 704V749.2M1157.3 762.4V776.8M1190 759.9V830.5M1233.6 860.3V887.8M1244.5 856.7V882.5M1299 884.3V945.2M1309.9 817.3V887.8M1320.8 800.8V858.1M1331.7 791.1V835.9M1364.4 774.3V837.7M1408 818.7V866.3M1418.9 801.8V844.8M1429.8 783.9V835.9M1440.7 787.5V813.7M1451.6 745.6V803.6M1473.4 775.7V810.1M1517 803.6V830.5M1560.5 878.2V938M1593.2 807.9V906.8M1604.1 850.2V884.3M1713.1 920.1V954.1M1745.8 924.7V955.9M1756.7 885.3V927.3M1767.6 834.1V900.4M1778.5 795.2V847.8M1789.4 783.3V842.5M1800.3 789.4V828.1M1811.2 788V816.7M1822.1 636.4V797.7M1843.9 633.9V691.3M1854.8 622.1V683M1876.6 650.8V742.1M1909.3 695.6V729.6M1920.2 680.5V736.8M1931.1 640V699.1M1952.9 583.8V674.8M1996.5 618.5V644.7M2029.2 711.7V772.6M2072.8 724.9V770.1M2138.2 788V823.8M2160 756.5V852.5M2170.9 748.6V777.3M2214.5 838.2V861.1M2225.4 790.5V855M2247.2 841.7V879M2269 823.8V855M2279.9 778.7V837.1M2312.6 815.6V843.2M2345.3 659.7V862.2M2356.2 560.1V706.3M2367.1 449.9V612.9M2378 446.3V537.6M2388.9 405.1V476.7M2432.5 459.5V555.6M2454.3 446.3V537.6M2497.9 556.3V627.2M2519.7 450.9V670.2M2552.4 586V618.3M2585.1 626.5V711.4M2606.9 589.6V652.3M2628.7 550.2V637.3M2650.5 552V605M2705 663.8V700.7M2715.9 654.1V695.3M2726.8 577.1V675.6M2737.7 532.3V605.7M2770.4 553.8V605.7M2781.3 490.4V580.6M2814 547.7V575.3M2824.9 510.8V555.6M2857.6 533.4V576.3M2890.3 616.5V656.6M2944.8 760.7V788.7M2955.7 749.3V814.5M2988.4 806.3V843.5M2999.3 787.2V852.8" stroke="#1a9c8c" stroke-width="1.8"/><path d="M45.5 1198.4V1235.2M56.4 1212.9V1273.1M78.2 1209.6V1240.8M110.9 1058.4V1126M121.8 1088.1V1153.8M143.6 1071.8V1161M187.2 793.5V905.7M198.1 810.3V878.4M252.6 399.9V484.1M263.5 432.2V500.2M296.2 425V450.1M328.9 405.3V521.7M372.5 224.4V493.1M405.2 317.5V398.1M416.1 342.6V398.1M427 376.6V494.9M448.8 373.1V405.3M459.7 394.6V450.1M546.9 152.7V272.7M557.8 190.3V233.3M568.7 206.4V287.1M590.5 219V254.8M601.4 235.1V262M612.3 227.9V260.2M623.2 242.3V305M655.9 257.7V324.7M666.8 301.4V382M677.7 313.9V439.3M688.6 369.5V439.3M699.5 398.1V441.1M721.3 346.2V414.3M732.2 392.8V457.3M754 337.2V521.7M764.9 448.3V511M786.7 421.4V484.1M797.6 460.8V521.7M808.5 497.9V589.3M819.4 493.6V560.6M830.3 544.5V576.7M873.9 426.8V489.5M884.8 485.9V527.1M895.7 504.4V538M906.6 530.2V594.7M917.5 528.4V600M928.4 586.9V788.2M939.3 653.9V723M950.2 683.6V755.3M972 624.5V725.5M982.9 690.8V775M1004.7 713.4V763.5M1026.5 742.7V788.2M1081 669.3V763.5M1091.9 731.3V769.6M1124.6 706.9V758.9M1135.5 731.3V766M1146.4 744.5V776.8M1168.2 771.4V834.1M1179.1 810.8V852M1200.9 762.4V806.5M1211.8 778.6V871.7M1222.7 839.5V871.7M1255.4 854.5V878.2M1266.3 864.6V935.5M1277.2 918.3V946.2M1288.1 922.6V955.9M1342.6 780.4V819.8M1353.5 788.6V830.5M1375.3 783.9V832.3M1386.2 815.1V860.3M1397.1 844.8V885.3M1462.5 752.8V807.2M1484.3 793.6V812.6M1495.2 810.8V834.1M1506.1 815.1V826.9M1527.9 802.9V823.3M1538.7 807.9V982.1M1549.6 895V938M1571.4 884.3V929M1582.3 882.5V909.3M1615 863.8V881.7M1625.9 863.8V895M1636.8 881.7V903.2M1647.7 891.4V957M1658.6 905.8V942.7M1669.5 924.7V939.8M1680.4 935.5V948.7M1691.3 932.6V958.4M1702.2 930.8V953.4M1724 918.3V936.2M1734.9 932.6V951.3M1833 620.3V711.7M1865.7 641.1V727.1M1887.5 691.3V736.8M1898.4 715.3V754.7M1942 640V676.9M1963.8 568.4V675.9M1974.7 563.7V644.7M1985.6 611.4V676.9M2007.4 633.9V679.4M2018.3 648.3V790.5M2040.1 705.6V755.8M2051 735V775.1M2061.9 735.7V764.4M2083.7 711.7V755.8M2094.6 735.7V759.3M2105.5 726V770.1M2116.4 752.2V790.5M2127.3 775.1V826.3M2149.1 773.7V865.8M2181.8 752.9V805.9M2192.7 770.8V847.8M2203.6 828.8V910.5M2236.3 801.3V855M2258.1 820.3V849.6M2290.8 793V850.3M2301.7 817.4V850.3M2323.5 813.8V867.5M2334.4 840.7V853.9M2399.8 439.1V525.1M2410.7 458.8V582.4M2421.6 511.9V547.7M2443.4 450.9V535.9M2465.2 465.3V512.6M2476.1 500V587.1M2487 557.4V713.2M2508.8 555.6V595M2530.6 444.5V605.7M2541.5 578.9V635.1M2563.3 578.9V632.6M2574.2 629V682.8M2596 630.8V662.3M2617.8 597.8V627.2M2639.6 543V602.1M2661.4 577.1V632.6M2672.3 608.6V650.5M2683.2 596.8V652.3M2694.1 630.8V713.2M2748.6 516.9V584.2M2759.5 546.6V617.2M2792.2 506.1V559.1M2803.1 519.7V566.3M2835.8 515.4V546.6M2846.7 534.1V587.1M2868.5 535.9V912.4M2879.4 595V664.8M2901.2 614.7V668.4M2912.1 654.1V725.8M2923 656.6V736.5M2933.9 718.6V801M2966.6 719.3V797.6M2977.5 785.1V836.3M3010.2 761.7V803.8M3021.1 770V811.4M3032 811.4V849.7M3042.9 820.3V918.5M3053.8 878.3V982.2M3064.7 913.5V941.9" stroke="#ef5350" stroke-width="1.8"/><g fill="#26a69a" stroke="#9598a1" stroke-width="1.8" transform="translate(0,0.8)"><rect x="19.7" y="1217.4" width="8" height="28.5"/><rect x="30.6" y="1214.5" width="8" height="0.8"/><rect x="63.3" y="1216.7" width="8" height="22.9"/><rect x="85.1" y="1115.9" width="8" height="117.7"/><rect x="96" y="1073.6" width="8" height="39.6"/><rect x="128.7" y="1082.5" width="8" height="14"/><rect x="150.5" y="1004.5" width="8" height="90.9"/><rect x="161.4" y="882" width="8" height="119.5"/><rect x="172.3" y="807.8" width="8" height="72.6"/><rect x="205" y="629.8" width="8" height="208"/><rect x="215.9" y="551.7" width="8" height="75.4"/><rect x="226.8" y="466.4" width="8" height="83"/><rect x="237.7" y="408.9" width="8" height="55.7"/><rect x="270.4" y="441.1" width="8" height="37.8"/><rect x="281.3" y="438.3" width="8" height="0.8"/><rect x="303.1" y="421.4" width="8" height="19.9"/><rect x="314" y="417.8" width="8" height="2"/><rect x="335.8" y="405.3" width="8" height="61.1"/><rect x="346.7" y="313.9" width="8" height="89.8"/><rect x="357.6" y="227.9" width="8" height="84.4"/><rect x="379.4" y="351.6" width="8" height="55.7"/><rect x="390.3" y="330.1" width="8" height="19.9"/><rect x="433.9" y="374.8" width="8" height="25.3"/><rect x="466.6" y="430.4" width="8" height="10.9"/><rect x="477.5" y="407.1" width="8" height="21.7"/><rect x="488.4" y="382" width="8" height="23.5"/><rect x="499.3" y="247.6" width="8" height="132.8"/><rect x="510.2" y="176" width="8" height="70.1"/><rect x="521.1" y="159.9" width="8" height="14.5"/><rect x="532" y="152.7" width="8" height="3.8"/><rect x="575.6" y="236.2" width="8" height="4.5"/><rect x="630.1" y="270.9" width="8" height="5.6"/><rect x="641" y="267.4" width="8" height="2"/><rect x="706.4" y="374.8" width="8" height="50.4"/><rect x="739.1" y="385.6" width="8" height="59.3"/><rect x="771.8" y="453.7" width="8" height="28.9"/><rect x="837.2" y="538.4" width="8" height="33.9"/><rect x="848.1" y="442.9" width="8" height="93.3"/><rect x="859" y="438.3" width="8" height="0.8"/><rect x="957.1" y="678.2" width="8" height="51.4"/><rect x="989.8" y="726.6" width="8" height="0.8"/><rect x="1011.6" y="744.5" width="8" height="2"/><rect x="1033.4" y="711.2" width="8" height="42.5"/><rect x="1044.3" y="708.7" width="8" height="0.9"/><rect x="1055.2" y="702.6" width="8" height="4.5"/><rect x="1066.1" y="677.5" width="8" height="23.5"/><rect x="1098.8" y="717.6" width="8" height="48.6"/><rect x="1109.7" y="713.4" width="8" height="2"/><rect x="1153.3" y="773.5" width="8" height="0.8"/><rect x="1186" y="786.4" width="8" height="35.3"/><rect x="1229.6" y="868.8" width="8" height="0.8"/><rect x="1240.5" y="861.7" width="8" height="7"/><rect x="1295" y="886" width="8" height="53.9"/><rect x="1305.9" y="834.1" width="8" height="50.4"/><rect x="1316.8" y="810.8" width="8" height="21.7"/><rect x="1327.7" y="793.6" width="8" height="15.6"/><rect x="1360.4" y="791.1" width="8" height="28.1"/><rect x="1404" y="839.5" width="8" height="12"/><rect x="1414.9" y="829.4" width="8" height="8.4"/><rect x="1425.8" y="806.5" width="8" height="21.3"/><rect x="1436.7" y="800.8" width="8" height="4.1"/><rect x="1447.6" y="752.8" width="8" height="46.4"/><rect x="1469.4" y="794.7" width="8" height="3.1"/><rect x="1513" y="805.4" width="8" height="18.1"/><rect x="1556.5" y="892.5" width="8" height="33.2"/><rect x="1589.2" y="868.8" width="8" height="30.6"/><rect x="1600.1" y="866.3" width="8" height="0.8"/><rect x="1709.1" y="922.6" width="8" height="26.3"/><rect x="1741.8" y="925.5" width="8" height="17"/><rect x="1752.7" y="887.8" width="8" height="36"/><rect x="1763.6" y="841.3" width="8" height="45"/><rect x="1774.5" y="805.9" width="8" height="33.2"/><rect x="1785.4" y="803.1" width="8" height="0.8"/><rect x="1796.3" y="801.3" width="8" height="0.9"/><rect x="1807.2" y="795.9" width="8" height="3.8"/><rect x="1818.1" y="663.3" width="8" height="131"/><rect x="1839.9" y="666.2" width="8" height="3.4"/><rect x="1850.8" y="662.6" width="8" height="0.8"/><rect x="1872.6" y="703.4" width="8" height="18.5"/><rect x="1905.3" y="723.5" width="8" height="0.8"/><rect x="1916.2" y="694.8" width="8" height="27.1"/><rect x="1927.1" y="650.8" width="8" height="41.4"/><rect x="1948.9" y="598.1" width="8" height="65.4"/><rect x="1992.5" y="633.9" width="8" height="0.8"/><rect x="2025.2" y="720.6" width="8" height="19.2"/><rect x="2068.8" y="741.4" width="8" height="18.8"/><rect x="2134.2" y="797.7" width="8" height="7.4"/><rect x="2156" y="766.5" width="8" height="69"/><rect x="2166.9" y="755.8" width="8" height="9.1"/><rect x="2210.5" y="849.6" width="8" height="3.8"/><rect x="2221.4" y="803.1" width="8" height="44.3"/><rect x="2243.2" y="844.3" width="8" height="6.6"/><rect x="2265" y="832.4" width="8" height="10.2"/><rect x="2275.9" y="794.1" width="8" height="36.7"/><rect x="2308.6" y="821" width="8" height="12"/><rect x="2341.3" y="666.2" width="8" height="181.1"/><rect x="2352.2" y="610.3" width="8" height="54.3"/><rect x="2363.1" y="489.3" width="8" height="118.4"/><rect x="2374" y="450.9" width="8" height="36.7"/><rect x="2384.9" y="439.1" width="8" height="10.2"/><rect x="2428.5" y="467.8" width="8" height="76.1"/><rect x="2450.3" y="498.2" width="8" height="7.4"/><rect x="2493.9" y="578.9" width="8" height="37.8"/><rect x="2515.7" y="455.2" width="8" height="122"/><rect x="2548.4" y="606.4" width="8" height="0.8"/><rect x="2581.1" y="641.6" width="8" height="31.4"/><rect x="2602.9" y="609.3" width="8" height="38.5"/><rect x="2624.7" y="566.3" width="8" height="53.9"/><rect x="2646.5" y="582.8" width="8" height="0.8"/><rect x="2701" y="673.1" width="8" height="17.7"/><rect x="2711.9" y="668.4" width="8" height="2"/><rect x="2722.8" y="595" width="8" height="71.9"/><rect x="2733.7" y="545.5" width="8" height="47.8"/><rect x="2766.4" y="567" width="8" height="30.6"/><rect x="2777.3" y="509.7" width="8" height="55.7"/><rect x="2810" y="554.8" width="8" height="6.3"/><rect x="2820.9" y="534.8" width="8" height="18.5"/><rect x="2853.6" y="553.8" width="8" height="9.1"/><rect x="2886.3" y="620.1" width="8" height="12"/><rect x="2940.8" y="780.4" width="8" height="2.5"/><rect x="2951.7" y="776.9" width="8" height="1.9"/><rect x="2984.4" y="817" width="8" height="1.1"/><rect x="2995.3" y="790.1" width="8" height="25.9"/></g><path d="M40.6 1214h9.8v3.3h-9.8zM51.5 1217.4h9.8v24.5h-9.8zM73.3 1216.3h9.8v19h-9.8zM106 1073.6h9.8v14.5h-9.8zM116.9 1088.1h9.8v10h-9.8zM138.7 1082.1h9.8v14.9h-9.8zM182.3 807.8h9.8v23.3h-9.8zM193.2 831.1h9.8v8.2h-9.8zM247.7 408.9h9.8v48.4h-9.8zM258.6 457.3h9.8v23.3h-9.8zM291.3 439.3h9.8v3.6h-9.8zM324 417.8h9.8v50.2h-9.8zM367.6 227.9h9.8v180.9h-9.8zM400.3 330.1h9.8v25.1h-9.8zM411.2 355.1h9.8v26.9h-9.8zM422.1 382h9.8v21.5h-9.8zM443.9 374.8h9.8v25.1h-9.8zM454.8 399.9h9.8v43h-9.8zM542 152.7h9.8v39.4h-9.8zM552.9 192.1h9.8v39.4h-9.8zM563.8 229.7h9.8v10.7h-9.8zM585.6 235.1h9.8v9h-9.8zM596.5 244.1h9.8v5.4h-9.8zM607.4 249.4h9.8v5.4h-9.8zM618.3 254.1h9.8v24h-9.8zM651 267.4h9.8v34h-9.8zM661.9 301.4h9.8v44.8h-9.8zM672.8 346.2h9.8v46.6h-9.8zM683.7 392.8h9.8v7.2h-9.8zM694.6 399.9h9.8v26.9h-9.8zM716.4 374.8h9.8v17.9h-9.8zM727.3 392.8h9.8v53.7h-9.8zM749.1 385.6h9.8v71.7h-9.8zM760 457.3h9.8v26.9h-9.8zM781.8 453.7h9.8v28.7h-9.8zM792.7 482.3h9.8v35.8h-9.8zM803.6 519.4h9.8v26.9h-9.8zM814.5 546.3h9.8v13.3h-9.8zM825.4 559.5h9.8v15.4h-9.8zM869 439.3h9.8v48.4h-9.8zM879.9 487.7h9.8v37.6h-9.8zM890.8 525.9h9.8v9.7h-9.8zM901.7 535.5h9.8v38.3h-9.8zM912.6 572.4h9.8v25.8h-9.8zM923.5 593h9.8v68.4h-9.8zM934.4 661.4h9.8v31.9h-9.8zM945.3 693.3h9.8v38h-9.8zM967.1 678.2h9.8v47.3h-9.8zM978 725.5h9.8v3.6h-9.8zM999.8 726.6h9.8v22.6h-9.8zM1021.6 744.5h9.8v10.7h-9.8zM1076.1 677.5h9.8v67h-9.8zM1087 744.5h9.8v25.1h-9.8zM1119.7 713.4h9.8v43h-9.8zM1130.6 753.5h9.8v2.9h-9.8zM1141.5 756.3h9.8v20.4h-9.8zM1163.3 773.5h9.8v42.6h-9.8zM1174.2 816.2h9.8v7.2h-9.8zM1196 786.4h9.8v2.1h-9.8zM1206.9 789.3h9.8v64.5h-9.8zM1217.8 853.8h9.8v17.9h-9.8zM1250.5 860.3h9.8v15.8h-9.8zM1261.4 876h9.8v46.6h-9.8zM1272.3 922.6h9.8v8.2h-9.8zM1283.2 930.8h9.8v10.7h-9.8zM1337.7 793.6h9.8v3.6h-9.8zM1348.6 797.2h9.8v23.6h-9.8zM1370.4 791.1h9.8v26.2h-9.8zM1381.3 817.3h9.8v29.4h-9.8zM1392.2 846.6h9.8v6.4h-9.8zM1457.6 752.8h9.8v47.3h-9.8zM1479.4 794.7h9.8v16.1h-9.8zM1490.3 810.8h9.8v4.3h-9.8zM1501.2 815.1h9.8v10.7h-9.8zM1523 805.4h9.8v2.5h-9.8zM1533.8 810.1h9.8v105.3h-9.8zM1544.7 915.4h9.8v11.8h-9.8zM1566.5 891.4h9.8v2h-9.8zM1577.4 893.2h9.8v7.9h-9.8zM1610.1 865.3h9.8v2.1h-9.8zM1621 867.4h9.8v25.1h-9.8zM1631.9 892.5h9.8v2.5h-9.8zM1642.8 895h9.8v22.6h-9.8zM1653.7 917.6h9.8v7.2h-9.8zM1664.6 924.7h9.8v10.7h-9.8zM1675.5 935.5h9.8v7.2h-9.8zM1686.4 942.7h9.8v3.6h-9.8zM1697.3 946.2h9.8v6.1h-9.8zM1719.1 922.6h9.8v12.9h-9.8zM1730 933.3h9.8v12.9h-9.8zM1828.1 663.3h9.8v7.9h-9.8zM1860.8 664h9.8v60.9h-9.8zM1882.6 703.4h9.8v13.6h-9.8zM1893.5 717.1h9.8v7.9h-9.8zM1937.1 650.8h9.8v14.3h-9.8zM1958.9 598.1h9.8v5h-9.8zM1969.8 603.1h9.8v17.2h-9.8zM1980.7 620.3h9.8v16.1h-9.8zM2002.5 635.4h9.8v30.8h-9.8zM2013.4 666.2h9.8v76h-9.8zM2035.2 718.9h9.8v26.9h-9.8zM2046.1 745h9.8v2h-9.8zM2057 746.4h9.8v16.5h-9.8zM2078.8 741.4h9.8v6.1h-9.8zM2089.7 747.5h9.8v9h-9.8zM2100.6 754.7h9.8v2h-9.8zM2111.5 756.5h9.8v21.5h-9.8zM2122.4 778h9.8v28.7h-9.8zM2144.2 797.7h9.8v39.4h-9.8zM2176.9 754.7h9.8v30.5h-9.8zM2187.8 785.1h9.8v53.7h-9.8zM2198.7 838.9h9.8v16.1h-9.8zM2231.4 803.1h9.8v50.2h-9.8zM2253.2 843.2h9.8v2h-9.8zM2285.9 794.1h9.8v33.3h-9.8zM2296.8 827.4h9.8v7.9h-9.8zM2318.6 820.3h9.8v22.9h-9.8zM2329.5 843.2h9.8v5.7h-9.8zM2394.9 439.1h9.8v26.9h-9.8zM2405.8 466h9.8v69.9h-9.8zM2416.7 535.9h9.8v9.7h-9.8zM2438.5 467.8h9.8v39.4h-9.8zM2460.3 498.2h9.8v14.3h-9.8zM2471.2 512.6h9.8v53.7h-9.8zM2482.1 566.3h9.8v53.7h-9.8zM2503.9 576.3h9.8v3.6h-9.8zM2525.7 455.2h9.8v146.9h-9.8zM2536.6 602.1h9.8v7.2h-9.8zM2558.4 606.4h9.8v22.6h-9.8zM2569.3 629h9.8v46.6h-9.8zM2591.1 641.6h9.8v9h-9.8zM2612.9 609.3h9.8v12.5h-9.8zM2634.7 566.3h9.8v19.7h-9.8zM2656.5 584.2h9.8v34h-9.8zM2667.4 618.3h9.8v7.2h-9.8zM2678.3 625.4h9.8v17.9h-9.8zM2689.2 643.3h9.8v50.2h-9.8zM2743.7 545.5h9.8v10h-9.8zM2754.6 555.6h9.8v43.7h-9.8zM2787.3 509.7h9.8v17.2h-9.8zM2798.2 526.9h9.8v37.6h-9.8zM2830.9 533.4h9.8v2h-9.8zM2841.8 535.9h9.8v28.7h-9.8zM2863.6 553.8h9.8v58.4h-9.8zM2874.5 612.2h9.8v21.5h-9.8zM2896.3 620.1h9.8v35.8h-9.8zM2907.2 655.9h9.8v16.1h-9.8zM2918.1 672h9.8v57.3h-9.8zM2929 729.3h9.8v55.5h-9.8zM2961.7 776.9h9.8v18h-9.8zM2972.6 794.2h9.8v25.5h-9.8zM3005.3 790.1h9.8v8.9h-9.8zM3016.2 798.4h9.8v13h-9.8zM3027.1 811.4h9.8v33.1h-9.8zM3038 844.6h9.8v54.9h-9.8zM3048.9 899.4h9.8v18.2h-9.8zM3059.8 917.6h9.8v7.7h-9.8z" fill="#ef5350"/><path d="M2377 404.4L2946.7 544.8" stroke="#131722" stroke-width="3.8" stroke-linecap="round"/><path d="M25 924.8H3330" stroke="#ef5350" stroke-width="1.8" stroke-dasharray="2.5 5.16"/><text x="46" y="116" font-size="30.3" fill="#505050" text-anchor="start" font-weight="normal" stroke="#505050" stroke-width="0.45" textLength="469" lengthAdjust="spacingAndGlyphs" >Cardano / TetherUS · 1W · Binance</text><text x="534.2" y="116" font-size="30.3" fill="#505050" text-anchor="start" font-weight="normal" stroke="#505050" stroke-width="0.45" textLength="21" lengthAdjust="spacingAndGlyphs" >O</text><text x="555.3" y="116" font-size="30.3" fill="#ef5350" text-anchor="start" font-weight="normal" stroke="#ef5350" stroke-width="0.45" textLength="86" lengthAdjust="spacingAndGlyphs" >0.2701</text><text x="664" y="116" font-size="30.3" fill="#505050" text-anchor="start" font-weight="normal" stroke="#505050" stroke-width="0.45" textLength="19" lengthAdjust="spacingAndGlyphs" >H</text><text x="683.2" y="116" font-size="30.3" fill="#ef5350" text-anchor="start" font-weight="normal" stroke="#ef5350" stroke-width="0.45" textLength="88.5" lengthAdjust="spacingAndGlyphs" >0.2740</text><text x="792" y="116" font-size="30.3" fill="#505050" text-anchor="start" font-weight="normal" stroke="#505050" stroke-width="0.45" textLength="15.5" lengthAdjust="spacingAndGlyphs" >L</text><text x="807.5" y="116" font-size="30.3" fill="#ef5350" text-anchor="start" font-weight="normal" stroke="#ef5350" stroke-width="0.45" textLength="87.5" lengthAdjust="spacingAndGlyphs" >0.2504</text><text x="914.6" y="116" font-size="30.3" fill="#505050" text-anchor="start" font-weight="normal" stroke="#505050" stroke-width="0.45" textLength="17.7" lengthAdjust="spacingAndGlyphs" >C</text><text x="932.3" y="116" font-size="30.3" fill="#ef5350" text-anchor="start" font-weight="normal" stroke="#ef5350" stroke-width="0.45" textLength="89.4" lengthAdjust="spacingAndGlyphs" >0.2638</text><text x="1042" y="116" font-size="30.3" fill="#ef5350" text-anchor="start" font-weight="normal" stroke="#ef5350" stroke-width="0.45" textLength="226.6" lengthAdjust="spacingAndGlyphs" >−0.0063 (−2.33%)</text><text x="46" y="158.2" font-size="30.3" fill="#505050" text-anchor="start" font-weight="normal" stroke="#505050" stroke-width="0.45" textLength="121" lengthAdjust="spacingAndGlyphs" >Vol · ADA</text><text x="187.6" y="158.2" font-size="30.3" fill="#ef5350" text-anchor="start" font-weight="normal" stroke="#ef5350" stroke-width="0.45" textLength="117" lengthAdjust="spacingAndGlyphs" >508.17 M</text><text x="46" y="199.5" font-size="30.3" fill="#505050" text-anchor="start" font-weight="normal" stroke="#505050" stroke-width="0.45" textLength="267.6" lengthAdjust="spacingAndGlyphs" >EMA 20/50/100/200</text><text x="333.4" y="199.5" font-size="30.3" fill="#ff0000" text-anchor="start" font-weight="normal" stroke="#ff0000" stroke-width="0.45" textLength="88" lengthAdjust="spacingAndGlyphs" >0.4438</text><text x="442" y="199.5" font-size="30.3" fill="#ff7f00" text-anchor="start" font-weight="normal" stroke="#ff7f00" stroke-width="0.45" textLength="88" lengthAdjust="spacingAndGlyphs" >0.5650</text><text x="551" y="199.5" font-size="30.3" fill="#00ffff" text-anchor="start" font-weight="normal" stroke="#00ffff" stroke-width="0.45" textLength="88" lengthAdjust="spacingAndGlyphs" >0.5909</text><text x="658.8" y="199.5" font-size="30.3" fill="#0000ff" text-anchor="start" font-weight="normal" stroke="#0000ff" stroke-width="0.45" textLength="88.6" lengthAdjust="spacingAndGlyphs" >0.5550</text></g><g clip-path="url(#cr)"><rect x="25" y="1418.7" width="3438.5" height="113.2" fill="#7e57c2" fill-opacity="0.1"/><path d="M25 1418.7H3463.5" stroke="#787b86" stroke-width="2.3" stroke-dasharray="9.75 12.05"/><path d="M25 1475.3H3463.5" stroke="#9a9ca6" stroke-width="2.3" stroke-dasharray="9.75 12.05"/><path d="M25 1531.9H3463.5" stroke="#787b86" stroke-width="2.3" stroke-dasharray="9.75 12.05"/><path d="M23.7 1418.7 L34.6 1418.7 L45.5 1418.7 L56.4 1418.7 L67.3 1418.7 L78.2 1418.7 L89.1 1418.7 L100 1417.3 L110.9 1418.7 L121.8 1418.7 L132.7 1418.7 L143.6 1418.7 L154.5 1408.4 L165.4 1382 L176.3 1370.5 L187.2 1390.2 L198.1 1396.6 L209 1364.1 L219.9 1356.7 L230.8 1350.6 L241.7 1347.3 L252.6 1388.4 L263.5 1403.4 L274.4 1395.8 L285.3 1395.2 L296.2 1398.7 L307.1 1393.9 L318 1393.1 L328.9 1418.7 L339.8 1411.8 L350.7 1391.1 L361.6 1376.1 L372.5 1418.7 L383.4 1418.7 L394.3 1418.7 L405.2 1418.7 L416.1 1418.7 L427 1418.7 L437.9 1418.7 L448.8 1418.7 L459.7 1418.7 L470.6 1418.7 L481.5 1418.7 L492.4 1418.7 L503.3 1418.7 L514.2 1410.6 L525.1 1407.1 L536 1405.5 L546.9 1418.7 L557.8 1418.7 L568.7 1418.7 L579.6 1418.7 L590.5 1418.7 L601.4 1418.7 L612.3 1418.7 L623.2 1418.7 L634.1 1418.7 L645 1418.7 L655.9 1418.7 L666.8 1418.7 L677.7 1418.7 L688.6 1418.7 L699.5 1418.7 L710.4 1418.7 L721.3 1418.7 L732.2 1418.7 L743.1 1418.7 L754 1418.7 L764.9 1418.7 L775.8 1418.7 L786.7 1418.7 L797.6 1418.7 L808.5 1418.7 L819.4 1418.7 L830.3 1418.7 L841.2 1418.7 L852.1 1418.7 L863 1418.7 L873.9 1418.7 L884.8 1418.7 L895.7 1418.7 L906.6 1418.7 L917.5 1418.7 L928.4 1418.7 L939.3 1418.7 L950.2 1418.7 L961.1 1418.7 L972 1418.7 L982.9 1418.7 L993.8 1418.7 L1004.7 1418.7 L1015.6 1418.7 L1026.5 1418.7 L1037.4 1418.7 L1048.3 1418.7 L1059.2 1418.7 L1070.1 1418.7 L1081 1418.7 L1091.9 1418.7 L1102.8 1418.7 L1113.7 1418.7 L1124.6 1418.7 L1135.5 1418.7 L1146.4 1418.7 L1157.3 1418.7 L1168.2 1418.7 L1179.1 1418.7 L1190 1418.7 L1200.9 1418.7 L1211.8 1418.7 L1222.7 1418.7 L1233.6 1418.7 L1244.5 1418.7 L1255.4 1418.7 L1266.3 1418.7 L1277.2 1418.7 L1288.1 1418.7 L1299 1418.7 L1309.9 1418.7 L1320.8 1418.7 L1331.7 1418.7 L1342.6 1418.7 L1353.5 1418.7 L1364.4 1418.7 L1375.3 1418.7 L1386.2 1418.7 L1397.1 1418.7 L1408 1418.7 L1418.9 1418.7 L1429.8 1418.7 L1440.7 1418.7 L1451.6 1418.7 L1462.5 1418.7 L1473.4 1418.7 L1484.3 1418.7 L1495.2 1418.7 L1506.1 1418.7 L1517 1418.7 L1527.9 1418.7 L1538.7 1418.7 L1549.6 1418.7 L1560.5 1418.7 L1571.4 1418.7 L1582.3 1418.7 L1593.2 1418.7 L1604.1 1418.7 L1615 1418.7 L1625.9 1418.7 L1636.8 1418.7 L1647.7 1418.7 L1658.6 1418.7 L1669.5 1418.7 L1680.4 1418.7 L1691.3 1418.7 L1702.2 1418.7 L1713.1 1418.7 L1724 1418.7 L1734.9 1418.7 L1745.8 1418.7 L1756.7 1418.7 L1767.6 1418.7 L1778.5 1418.7 L1789.4 1418.7 L1800.3 1418.7 L1811.2 1418.7 L1822.1 1384.2 L1833 1392.4 L1843.9 1391 L1854.8 1390 L1865.7 1418.7 L1876.6 1418.7 L1887.5 1418.7 L1898.4 1418.7 L1909.3 1418.7 L1920.2 1418.7 L1931.1 1418 L1942 1418.7 L1952.9 1406.3 L1963.8 1410.8 L1974.7 1418.7 L1985.6 1418.7 L1996.5 1418.7 L2007.4 1418.7 L2018.3 1418.7 L2029.2 1418.7 L2040.1 1418.7 L2051 1418.7 L2061.9 1418.7 L2072.8 1418.7 L2083.7 1418.7 L2094.6 1418.7 L2105.5 1418.7 L2116.4 1418.7 L2127.3 1418.7 L2138.2 1418.7 L2149.1 1418.7 L2160 1418.7 L2170.9 1418.7 L2181.8 1418.7 L2192.7 1418.7 L2203.6 1418.7 L2214.5 1418.7 L2225.4 1418.7 L2236.3 1418.7 L2247.2 1418.7 L2258.1 1418.7 L2269 1418.7 L2279.9 1418.7 L2290.8 1418.7 L2301.7 1418.7 L2312.6 1418.7 L2323.5 1418.7 L2334.4 1418.7 L2345.3 1418.7 L2356.2 1412.6 L2367.1 1385.9 L2378 1379.2 L2388.9 1377.2 L2399.8 1400 L2410.7 1418.7 L2421.6 1418.7 L2432.5 1418.7 L2443.4 1418.7 L2454.3 1418.7 L2465.2 1418.7 L2476.1 1418.7 L2487 1418.7 L2497.9 1418.7 L2508.8 1418.7 L2519.7 1418.7 L2530.6 1418.7 L2541.5 1418.7 L2552.4 1418.7 L2563.3 1418.7 L2574.2 1418.7 L2585.1 1418.7 L2596 1418.7 L2606.9 1418.7 L2617.8 1418.7 L2628.7 1418.7 L2639.6 1418.7 L2650.5 1418.7 L2661.4 1418.7 L2672.3 1418.7 L2683.2 1418.7 L2694.1 1418.7 L2705 1418.7 L2715.9 1418.7 L2726.8 1418.7 L2737.7 1418.7 L2748.6 1418.7 L2759.5 1418.7 L2770.4 1418.7 L2781.3 1418.7 L2792.2 1418.7 L2803.1 1418.7 L2814 1418.7 L2824.9 1418.7 L2835.8 1418.7 L2846.7 1418.7 L2857.6 1418.7 L2868.5 1418.7 L2879.4 1418.7 L2890.3 1418.7 L2901.2 1418.7 L2912.1 1418.7 L2923 1418.7 L2933.9 1418.7 L2944.8 1418.7 L2955.7 1418.7 L2966.6 1418.7 L2977.5 1418.7 L2988.4 1418.7 L2999.3 1418.7 L3010.2 1418.7 L3021.1 1418.7 L3032 1418.7 L3042.9 1418.7 L3053.8 1418.7 L3064.7 1418.7 L3064.7 1418.7 L23.7 1418.7Z" fill="url(#ob)" transform="translate(0,0)"/><path d="M23.7 1436.1 L34.6 1440.2 L45.5 1444.3 L56.4 1449.2 L67.3 1453.4 L78.2 1458.1 L89.1 1460.1 L100 1461.2 L110.9 1457.9 L121.8 1455.1 L132.7 1451.9 L143.6 1449.3 L154.5 1444.7 L165.4 1438.3 L176.3 1431.9 L187.2 1427.1 L198.1 1422.6 L209 1415 L219.9 1407.6 L230.8 1399.2 L241.7 1393.3 L252.6 1391.3 L263.5 1389.6 L274.4 1387 L285.3 1384.7 L296.2 1382 L307.1 1381 L318 1381.8 L328.9 1385.9 L339.8 1387.5 L350.7 1387.1 L361.6 1387.9 L372.5 1395.2 L383.4 1402.1 L394.3 1408.9 L405.2 1413.4 L416.1 1417.3 L427 1422.2 L437.9 1426.7 L448.8 1431.4 L459.7 1437.2 L470.6 1442.8 L481.5 1445.5 L492.4 1449 L503.3 1451.5 L514.2 1454 L525.1 1450.4 L536 1447.4 L546.9 1446.4 L557.8 1446.1 L568.7 1445.5 L579.6 1444.5 L590.5 1444.1 L601.4 1443.4 L612.3 1442.2 L623.2 1441.9 L634.1 1441.8 L645 1442 L655.9 1445.7 L666.8 1451.6 L677.7 1458.6 L688.6 1465.9 L699.5 1471.9 L710.4 1475.2 L721.3 1478.7 L732.2 1483.1 L743.1 1485.9 L754 1489.5 L764.9 1493.3 L775.8 1495.8 L786.7 1498.9 L797.6 1502.4 L808.5 1505.2 L819.4 1507 L830.3 1508.2 L841.2 1508.5 L852.1 1506.5 L863 1505.6 L873.9 1505.3 L884.8 1504.7 L895.7 1505.6 L906.6 1505.9 L917.5 1506.1 L928.4 1507.5 L939.3 1508.8 L950.2 1509.9 L961.1 1509.9 L972 1510.2 L982.9 1510.4 L993.8 1511.2 L1004.7 1514.2 L1015.6 1517.1 L1026.5 1519.3 L1037.4 1520.2 L1048.3 1520.8 L1059.2 1520.9 L1070.1 1520.1 L1081 1519.7 L1091.9 1519.2 L1102.8 1517.5 L1113.7 1516.4 L1124.6 1515.6 L1135.5 1514.8 L1146.4 1514.2 L1157.3 1513.4 L1168.2 1513.2 L1179.1 1513 L1190 1512.8 L1200.9 1512.6 L1211.8 1513.4 L1222.7 1515 L1233.6 1515.6 L1244.5 1515.8 L1255.4 1517.2 L1266.3 1519.3 L1277.2 1520.8 L1288.1 1522.4 L1299 1522.4 L1309.9 1521.1 L1320.8 1518.7 L1331.7 1515.7 L1342.6 1513.7 L1353.5 1512.3 L1364.4 1509.1 L1375.3 1506.5 L1386.2 1504.5 L1397.1 1502.9 L1408 1500.7 L1418.9 1497.6 L1429.8 1493.7 L1440.7 1489.5 L1451.6 1485.2 L1462.5 1483.8 L1473.4 1482.8 L1484.3 1482.8 L1495.2 1482.9 L1506.1 1482.7 L1517 1482.6 L1527.9 1481.9 L1538.7 1483.1 L1549.6 1484.4 L1560.5 1485.1 L1571.4 1486.1 L1582.3 1488 L1593.2 1489.1 L1604.1 1491.7 L1615 1492.7 L1625.9 1494.5 L1636.8 1495.9 L1647.7 1497.7 L1658.6 1499.4 L1669.5 1502 L1680.4 1504.7 L1691.3 1505 L1702.2 1505.2 L1713.1 1505.1 L1724 1505.3 L1734.9 1505.7 L1745.8 1506.1 L1756.7 1505 L1767.6 1502.2 L1778.5 1497.5 L1789.4 1492.6 L1800.3 1487.1 L1811.2 1481.3 L1822.1 1472 L1833 1463.1 L1843.9 1454.1 L1854.8 1444.8 L1865.7 1440.7 L1876.6 1435.6 L1887.5 1430.8 L1898.4 1427.4 L1909.3 1425.5 L1920.2 1424.4 L1931.1 1423.3 L1942 1423.1 L1952.9 1421.2 L1963.8 1419.9 L1974.7 1422.8 L1985.6 1426 L1996.5 1429.3 L2007.4 1434.1 L2018.3 1437.5 L2029.2 1440.8 L2040.1 1444.2 L2051 1447.1 L2061.9 1450.5 L2072.8 1454.2 L2083.7 1459.3 L2094.6 1463.8 L2105.5 1469.9 L2116.4 1476.4 L2127.3 1482.4 L2138.2 1487.3 L2149.1 1493.1 L2160 1495 L2170.9 1494.3 L2181.8 1495 L2192.7 1496.2 L2203.6 1497.6 L2214.5 1498.5 L2225.4 1498.7 L2236.3 1499.8 L2247.2 1500.4 L2258.1 1501 L2269 1500.6 L2279.9 1498.4 L2290.8 1497.3 L2301.7 1495.7 L2312.6 1495.8 L2323.5 1496.9 L2334.4 1497.3 L2345.3 1491.6 L2356.2 1484.6 L2367.1 1475.8 L2378 1467.9 L2388.9 1458.9 L2399.8 1451.7 L2410.7 1447.4 L2421.6 1443.7 L2432.5 1439.8 L2443.4 1436.4 L2454.3 1432.6 L2465.2 1429.7 L2476.1 1427.6 L2487 1426.5 L2497.9 1429.5 L2508.8 1433.7 L2519.7 1437.4 L2530.6 1444.5 L2541.5 1451.9 L2552.4 1457.5 L2563.3 1460.7 L2574.2 1464 L2585.1 1468.4 L2596 1471.6 L2606.9 1474.2 L2617.8 1476.6 L2628.7 1476.5 L2639.6 1475.8 L2650.5 1475.8 L2661.4 1476.4 L2672.3 1479.7 L2683.2 1480.3 L2694.1 1481.5 L2705 1482.4 L2715.9 1482.9 L2726.8 1481.2 L2737.7 1479 L2748.6 1476.9 L2759.5 1476.6 L2770.4 1475.4 L2781.3 1474 L2792.2 1472.7 L2803.1 1472.5 L2814 1471.4 L2824.9 1469.6 L2835.8 1467.6 L2846.7 1465.6 L2857.6 1463.8 L2868.5 1463.5 L2879.4 1465.2 L2890.3 1467.7 L2901.2 1470.6 L2912.1 1472.6 L2923 1476.2 L2933.9 1481.6 L2944.8 1486.4 L2955.7 1490 L2966.6 1494.1 L2977.5 1499 L2988.4 1503.7 L2999.3 1507 L3010.2 1510.6 L3021.1 1513 L3032 1515.4 L3042.9 1518.6 L3053.8 1521.3 L3064.7 1523.8" fill="none" stroke="#ffe63c" stroke-width="2.6"/><path d="M23.7 1459.2 L34.6 1458.2 L45.5 1459.5 L56.4 1469.6 L67.3 1460.6 L78.2 1468.4 L89.1 1429.2 L100 1417.3 L110.9 1426.5 L121.8 1432.5 L132.7 1427.5 L143.6 1436.7 L154.5 1408.4 L165.4 1382 L176.3 1370.5 L187.2 1390.2 L198.1 1396.6 L209 1364.1 L219.9 1356.7 L230.8 1350.6 L241.7 1347.3 L252.6 1388.4 L263.5 1403.4 L274.4 1395.8 L285.3 1395.2 L296.2 1398.7 L307.1 1393.9 L318 1393.1 L328.9 1428.9 L339.8 1411.8 L350.7 1391.1 L361.6 1376.1 L372.5 1458.1 L383.4 1447.3 L394.3 1443 L405.2 1450.9 L416.1 1458.5 L427 1464.1 L437.9 1457.7 L448.8 1464.8 L459.7 1475.2 L470.6 1472.4 L481.5 1466.7 L492.4 1460.2 L503.3 1426.7 L514.2 1410.6 L525.1 1407.1 L536 1405.5 L546.9 1429 L557.8 1447 L568.7 1450.6 L579.6 1449.3 L590.5 1452.8 L601.4 1455.2 L612.3 1457.7 L623.2 1467.9 L634.1 1465.2 L645 1463.7 L655.9 1478.5 L666.8 1493.5 L677.7 1505.3 L688.6 1506.8 L699.5 1512.6 L710.4 1494.5 L721.3 1499.1 L732.2 1510.8 L743.1 1491.5 L754 1506.5 L764.9 1510.9 L775.8 1502.6 L786.7 1507.8 L797.6 1513.5 L808.5 1517.4 L819.4 1519.2 L830.3 1521.3 L841.2 1511.4 L852.1 1484.1 L863 1482.6 L873.9 1494.8 L884.8 1502.2 L895.7 1504.1 L906.6 1510.6 L917.5 1514.2 L928.4 1522.2 L939.3 1525.5 L950.2 1529 L961.1 1518 L972 1523.1 L982.9 1523.5 L993.8 1522.9 L1004.7 1525.4 L1015.6 1524.3 L1026.5 1525.6 L1037.4 1514 L1048.3 1513.3 L1059.2 1511.4 L1070.1 1503.2 L1081 1515.8 L1091.9 1519.6 L1102.8 1504.7 L1113.7 1503.4 L1124.6 1511.6 L1135.5 1511.6 L1146.4 1515.3 L1157.3 1514.3 L1168.2 1521.6 L1179.1 1522.7 L1190 1510.6 L1200.9 1511 L1211.8 1522.8 L1222.7 1525.4 L1233.6 1524.5 L1244.5 1522.1 L1255.4 1524.6 L1266.3 1531.7 L1277.2 1532.8 L1288.1 1534.3 L1299 1515 L1309.9 1496.4 L1320.8 1487.8 L1331.7 1481.2 L1342.6 1482.5 L1353.5 1490.8 L1364.4 1478.5 L1375.3 1488.1 L1386.2 1497.3 L1397.1 1499.2 L1408 1493.4 L1418.9 1489 L1429.8 1478.5 L1440.7 1475.8 L1451.6 1453.8 L1462.5 1476.8 L1473.4 1474.6 L1484.3 1481.4 L1495.2 1483.2 L1506.1 1487.7 L1517 1477.6 L1527.9 1478.9 L1538.7 1514.1 L1549.6 1516.6 L1560.5 1503.1 L1571.4 1503.3 L1582.3 1505.5 L1593.2 1491.2 L1604.1 1490.1 L1615 1490.5 L1625.9 1500 L1636.8 1500.9 L1647.7 1508.6 L1658.6 1511 L1669.5 1514.4 L1680.4 1516.7 L1691.3 1517.8 L1702.2 1519.9 L1713.1 1501.1 L1724 1506.5 L1734.9 1510.7 L1745.8 1497.4 L1756.7 1474.8 L1767.6 1450.4 L1778.5 1434.2 L1789.4 1433 L1800.3 1432.1 L1811.2 1429.5 L1822.1 1384.2 L1833 1392.4 L1843.9 1391 L1854.8 1390 L1865.7 1443.4 L1876.6 1435.1 L1887.5 1444.1 L1898.4 1449.1 L1909.3 1448.5 L1920.2 1435.6 L1931.1 1418 L1942 1429.9 L1952.9 1406.3 L1963.8 1410.8 L1974.7 1425.3 L1985.6 1437.4 L1996.5 1436.4 L2007.4 1458 L2018.3 1490.5 L2029.2 1482 L2040.1 1490.5 L2051 1490.8 L2061.9 1496.2 L2072.8 1486.9 L2083.7 1489.2 L2094.6 1492.6 L2105.5 1492.6 L2116.4 1500.7 L2127.3 1510.1 L2138.2 1505.6 L2149.1 1517.1 L2160 1485.3 L2170.9 1480.5 L2181.8 1491.7 L2192.7 1507.3 L2203.6 1511.1 L2214.5 1509 L2225.4 1489.8 L2236.3 1504 L2247.2 1500.6 L2258.1 1500.6 L2269 1495.6 L2279.9 1478.9 L2290.8 1491.1 L2301.7 1493.7 L2312.6 1487.4 L2323.5 1495.3 L2334.4 1497.3 L2345.3 1428.3 L2356.2 1412.6 L2367.1 1385.9 L2378 1379.2 L2388.9 1377.2 L2399.8 1400 L2410.7 1440.6 L2421.6 1444.8 L2432.5 1423.9 L2443.4 1442.8 L2454.3 1440.4 L2465.2 1446.9 L2476.1 1467 L2487 1481.5 L2497.9 1470.7 L2508.8 1471.1 L2519.7 1436.9 L2530.6 1479 L2541.5 1480.3 L2552.4 1479.7 L2563.3 1484.2 L2574.2 1492.2 L2585.1 1485.1 L2596 1486.8 L2606.9 1477.1 L2617.8 1480.1 L2628.7 1465.8 L2639.6 1471.5 L2650.5 1470.6 L2661.4 1480.6 L2672.3 1482.4 L2683.2 1487 L2694.1 1498 L2705 1492.4 L2715.9 1491 L2726.8 1468.6 L2737.7 1453.6 L2748.6 1457.7 L2759.5 1473.3 L2770.4 1463.4 L2781.3 1445.8 L2792.2 1453.4 L2803.1 1467.8 L2814 1464.7 L2824.9 1458.1 L2835.8 1458.1 L2846.7 1470.6 L2857.6 1466.7 L2868.5 1487.1 L2879.4 1492.9 L2890.3 1488.2 L2901.2 1497.9 L2912.1 1501.7 L2923 1513.2 L2933.9 1521.6 L2944.8 1520.4 L2955.7 1519.3 L2966.6 1522.1 L2977.5 1525.7 L2988.4 1524.9 L2999.3 1516.1 L3010.2 1517.8 L3021.1 1520.1 L3032 1525.8 L3042.9 1533.5 L3053.8 1535.7 L3064.7 1536.6" fill="none" stroke="#7e57c2" stroke-width="2.4" stroke-linejoin="round"/><text x="45.6" y="1416.8" font-size="30.3" fill="#505050" text-anchor="start" font-weight="normal" stroke="#505050" stroke-width="0.45" textLength="189.6" lengthAdjust="spacingAndGlyphs" >RSI (14, close)</text><text x="256.6" y="1416.8" font-size="30.3" fill="#7e57c2" text-anchor="start" font-weight="normal" stroke="#7e57c2" stroke-width="0.45" textLength="71" lengthAdjust="spacingAndGlyphs" >28.19</text><text x="348.4" y="1416.8" font-size="30.3" fill="#ffe63c" text-anchor="start" font-weight="normal" stroke="#ffe63c" stroke-width="0.45" textLength="72" lengthAdjust="spacingAndGlyphs" >32.76</text><text x="443" y="1416.8" font-size="30.3" fill="#505050" text-anchor="start" font-weight="normal" stroke="#505050" stroke-width="0.45" textLength="22" lengthAdjust="spacingAndGlyphs" >∅</text><text x="489.6" y="1416.8" font-size="30.3" fill="#505050" text-anchor="start" font-weight="normal" stroke="#505050" stroke-width="0.45" textLength="22" lengthAdjust="spacingAndGlyphs" >∅</text></g><path d="M3463.5 67V1366M3463.5 1368V1619M25 1550H3602.5" stroke="#3a3c44" stroke-width="1.7"/><text x="3566" y="186.3" font-size="28" fill="#4a4a4a" text-anchor="end" font-weight="normal" stroke="#4a4a4a" stroke-width="0.45" textLength="80.5" lengthAdjust="spacingAndGlyphs" >2.7000</text><text x="3566" y="267.1" font-size="28" fill="#4a4a4a" text-anchor="end" font-weight="normal" stroke="#4a4a4a" stroke-width="0.45" textLength="80.5" lengthAdjust="spacingAndGlyphs" >2.1000</text><text x="3566" y="375.3" font-size="28" fill="#4a4a4a" text-anchor="end" font-weight="normal" stroke="#4a4a4a" stroke-width="0.45" textLength="80.5" lengthAdjust="spacingAndGlyphs" >1.5000</text><text x="3566" y="447" font-size="28" fill="#4a4a4a" text-anchor="end" font-weight="normal" stroke="#4a4a4a" stroke-width="0.45" textLength="80.5" lengthAdjust="spacingAndGlyphs" >1.2000</text><text x="3566" y="539.5" font-size="28" fill="#4a4a4a" text-anchor="end" font-weight="normal" stroke="#4a4a4a" stroke-width="0.45" textLength="80.5" lengthAdjust="spacingAndGlyphs" >0.9000</text><text x="3566" y="620.3" font-size="28" fill="#4a4a4a" text-anchor="end" font-weight="normal" stroke="#4a4a4a" stroke-width="0.45" textLength="80.5" lengthAdjust="spacingAndGlyphs" >0.7000</text><text x="3566" y="697.9" font-size="28" fill="#4a4a4a" text-anchor="end" font-weight="normal" stroke="#4a4a4a" stroke-width="0.45" textLength="80.5" lengthAdjust="spacingAndGlyphs" >0.5500</text><text x="3566" y="800.2" font-size="28" fill="#4a4a4a" text-anchor="end" font-weight="normal" stroke="#4a4a4a" stroke-width="0.45" textLength="80.5" lengthAdjust="spacingAndGlyphs" >0.4000</text><text x="3566" y="872" font-size="28" fill="#4a4a4a" text-anchor="end" font-weight="normal" stroke="#4a4a4a" stroke-width="0.45" textLength="80.5" lengthAdjust="spacingAndGlyphs" >0.3200</text><text x="3566" y="1039.6" font-size="28" fill="#4a4a4a" text-anchor="end" font-weight="normal" stroke="#4a4a4a" stroke-width="0.45" textLength="80.5" lengthAdjust="spacingAndGlyphs" >0.1900</text><text x="3566" y="1187.3" font-size="28" fill="#4a4a4a" text-anchor="end" font-weight="normal" stroke="#4a4a4a" stroke-width="0.45" textLength="80.5" lengthAdjust="spacingAndGlyphs" >0.1200</text><text x="3566" y="1262.4" font-size="28" fill="#4a4a4a" text-anchor="end" font-weight="normal" stroke="#4a4a4a" stroke-width="0.45" textLength="80.5" lengthAdjust="spacingAndGlyphs" >0.0950</text><text x="3566" y="1338.4" font-size="28" fill="#4a4a4a" text-anchor="end" font-weight="normal" stroke="#4a4a4a" stroke-width="0.45" textLength="80.5" lengthAdjust="spacingAndGlyphs" >0.0750</text><text x="3485.3" y="1413.8" font-size="28" fill="#4a4a4a" text-anchor="start" font-weight="normal" stroke="#4a4a4a" stroke-width="0.45" textLength="66.7" lengthAdjust="spacingAndGlyphs" >75.00</text><text x="3485.3" y="1484.6" font-size="28" fill="#4a4a4a" text-anchor="start" font-weight="normal" stroke="#4a4a4a" stroke-width="0.45" textLength="66.7" lengthAdjust="spacingAndGlyphs" >50.00</text><rect x="3472.6" y="76.4" width="120.6" height="65" rx="9.5" fill="#fff" stroke="#e9eaee" stroke-width="1.5"/><text x="3531.5" y="118.1" font-size="28.9" fill="#131722" text-anchor="middle" font-weight="normal" stroke="#131722" stroke-width="0.45" textLength="68.5" lengthAdjust="spacingAndGlyphs" >USDT</text><path d="M3334.5 905.3H3463.6V944.6H3334.5Q3330.5 944.6 3330.5 940.6V909.3Q3330.5 905.3 3334.5 905.3Z" fill="#ef5350"/><text x="3396.6" y="934.5" font-size="28" fill="#fff" text-anchor="middle" font-weight="normal" stroke="#fff" stroke-width="0.45" textLength="112.4" lengthAdjust="spacingAndGlyphs" >ADAUSDT</text><path d="M3463.6 905.3H3574Q3578 905.3 3578 909.3V972.7Q3578 976.7 3574 976.7H3463.6Z" fill="#ef5350"/><text x="3566" y="934.5" font-size="28" fill="#fff" text-anchor="end" font-weight="normal" stroke="#fff" stroke-width="0.45" textLength="81" lengthAdjust="spacingAndGlyphs" >0.2638</text><text x="3566" y="967" font-size="28" fill="#fde0e0" text-anchor="end" font-weight="normal" stroke="#fde0e0" stroke-width="0.45" textLength="81" lengthAdjust="spacingAndGlyphs" >2d 13h</text><path d="M3463.6 1040H3574Q3578 1040 3578 1044V1076Q3578 1080 3574 1080H3463.6Z" fill="#2962ff"/><text x="3566" y="1069.5" font-size="28" fill="#fff" text-anchor="end" font-weight="normal" stroke="#fff" stroke-width="0.45" textLength="81" lengthAdjust="spacingAndGlyphs" >0.1734</text><path d="M3463.6 1091H3574Q3578 1091 3578 1095V1126.6Q3578 1130.6 3574 1130.6H3463.6Z" fill="#2962ff"/><text x="3566" y="1120.3" font-size="28" fill="#fff" text-anchor="end" font-weight="normal" stroke="#fff" stroke-width="0.45" textLength="81" lengthAdjust="spacingAndGlyphs" >0.1480</text><path d="M3463.6 1219.7H3574Q3578 1219.7 3578 1223.7V1255Q3578 1259 3574 1259H3463.6Z" fill="#2962ff"/><text x="3566" y="1248.8" font-size="28" fill="#fff" text-anchor="end" font-weight="normal" stroke="#fff" stroke-width="0.45" textLength="81" lengthAdjust="spacingAndGlyphs" >0.0990</text><text x="163.3" y="1594" font-size="28" fill="#4a4a4a" text-anchor="middle" font-weight="normal" stroke="#4a4a4a" stroke-width="1.5" textLength="58" lengthAdjust="spacingAndGlyphs" >2021</text><text x="448.6" y="1594" font-size="28" fill="#4a4a4a" text-anchor="middle" font-weight="normal" stroke="#4a4a4a" stroke-width="0.45" textLength="34.3" lengthAdjust="spacingAndGlyphs" >Jul</text><text x="730.9" y="1594" font-size="28" fill="#4a4a4a" text-anchor="middle" font-weight="normal" stroke="#4a4a4a" stroke-width="1.5" textLength="58" lengthAdjust="spacingAndGlyphs" >2022</text><text x="1015.5" y="1594" font-size="28" fill="#4a4a4a" text-anchor="middle" font-weight="normal" stroke="#4a4a4a" stroke-width="0.45" textLength="34.3" lengthAdjust="spacingAndGlyphs" >Jul</text><text x="1297.8" y="1594" font-size="28" fill="#4a4a4a" text-anchor="middle" font-weight="normal" stroke="#4a4a4a" stroke-width="1.5" textLength="58" lengthAdjust="spacingAndGlyphs" >2023</text><text x="1582.4" y="1594" font-size="28" fill="#4a4a4a" text-anchor="middle" font-weight="normal" stroke="#4a4a4a" stroke-width="0.45" textLength="34.3" lengthAdjust="spacingAndGlyphs" >Jul</text><text x="1864.6" y="1594" font-size="28" fill="#4a4a4a" text-anchor="middle" font-weight="normal" stroke="#4a4a4a" stroke-width="1.5" textLength="58" lengthAdjust="spacingAndGlyphs" >2024</text><text x="2149.2" y="1594" font-size="28" fill="#4a4a4a" text-anchor="middle" font-weight="normal" stroke="#4a4a4a" stroke-width="0.45" textLength="34.3" lengthAdjust="spacingAndGlyphs" >Jul</text><text x="2442.8" y="1594" font-size="28" fill="#4a4a4a" text-anchor="middle" font-weight="normal" stroke="#4a4a4a" stroke-width="1.5" textLength="58" lengthAdjust="spacingAndGlyphs" >2025</text><text x="2727.4" y="1594" font-size="28" fill="#4a4a4a" text-anchor="middle" font-weight="normal" stroke="#4a4a4a" stroke-width="0.45" textLength="34.3" lengthAdjust="spacingAndGlyphs" >Jul</text><text x="3009.7" y="1594" font-size="28" fill="#4a4a4a" text-anchor="middle" font-weight="normal" stroke="#4a4a4a" stroke-width="1.5" textLength="58" lengthAdjust="spacingAndGlyphs" >2026</text><text x="3294.3" y="1594" font-size="28" fill="#4a4a4a" text-anchor="middle" font-weight="normal" stroke="#4a4a4a" stroke-width="0.45" textLength="34.3" lengthAdjust="spacingAndGlyphs" >Jul</text><g fill="#111"><path d="M30.1 1674H59.9V1711.5H45V1689.1H30.1Z"/><circle cx="72.5" cy="1681.3" r="7.3"/><path d="M87.7 1674H104.8L90.1 1711.5H72.7Z"/><path d="M122.4 1674H150V1681.3H140.2V1711.5H132.5V1681.3H122.4Z"/><path d="M150 1684H157.5V1690Q160 1684 166 1684V1691.6Q157.5 1691.6 157.5 1700V1711.5H150Z"/><rect x="187.6" y="1684" width="7.4" height="27.5"/><rect x="220.2" y="1674" width="7.2" height="37.5"/><rect x="232.8" y="1684" width="7.3" height="27.5"/><circle cx="236.4" cy="1676.9" r="4.6"/><rect x="342.5" y="1684" width="7.4" height="27.5"/><circle cx="346.1" cy="1676.9" r="4.6"/><path d="M301.8 1674H311L324 1702L330.5 1674H339.6L329 1711.5H318.9Z"/></g><g fill="none" stroke="#111" stroke-width="7.3"><circle cx="180.8" cy="1697.8" r="10.1"/><circle cx="211.8" cy="1697.8" r="10.1"/><circle cx="285.8" cy="1697.8" r="10.1"/><path d="M249.15 1711.5V1696.3A8.6 8.6 0 0 1 266.3 1696.3V1711.5"/><path d="M298.2 1684V1710A11.5 11.5 0 0 1 279 1718.5"/><path d="M379.2 1697.45A10.5 10.5 0 1 0 377.3 1703.5" stroke-width="6.75"/></g><path d="M361.8 1694H382.6V1699.2H361.8Z" fill="#111"/><path d="M382.8 1684.15H389.95L395.3 1701.2L401.06 1684.15H406.8L412.5 1701.2L417.4 1684.15H424.7L415.9 1710.85H409.1L403.6 1695.8L398.7 1710.85H391.6Z" fill="#111"/></svg></body></html>
